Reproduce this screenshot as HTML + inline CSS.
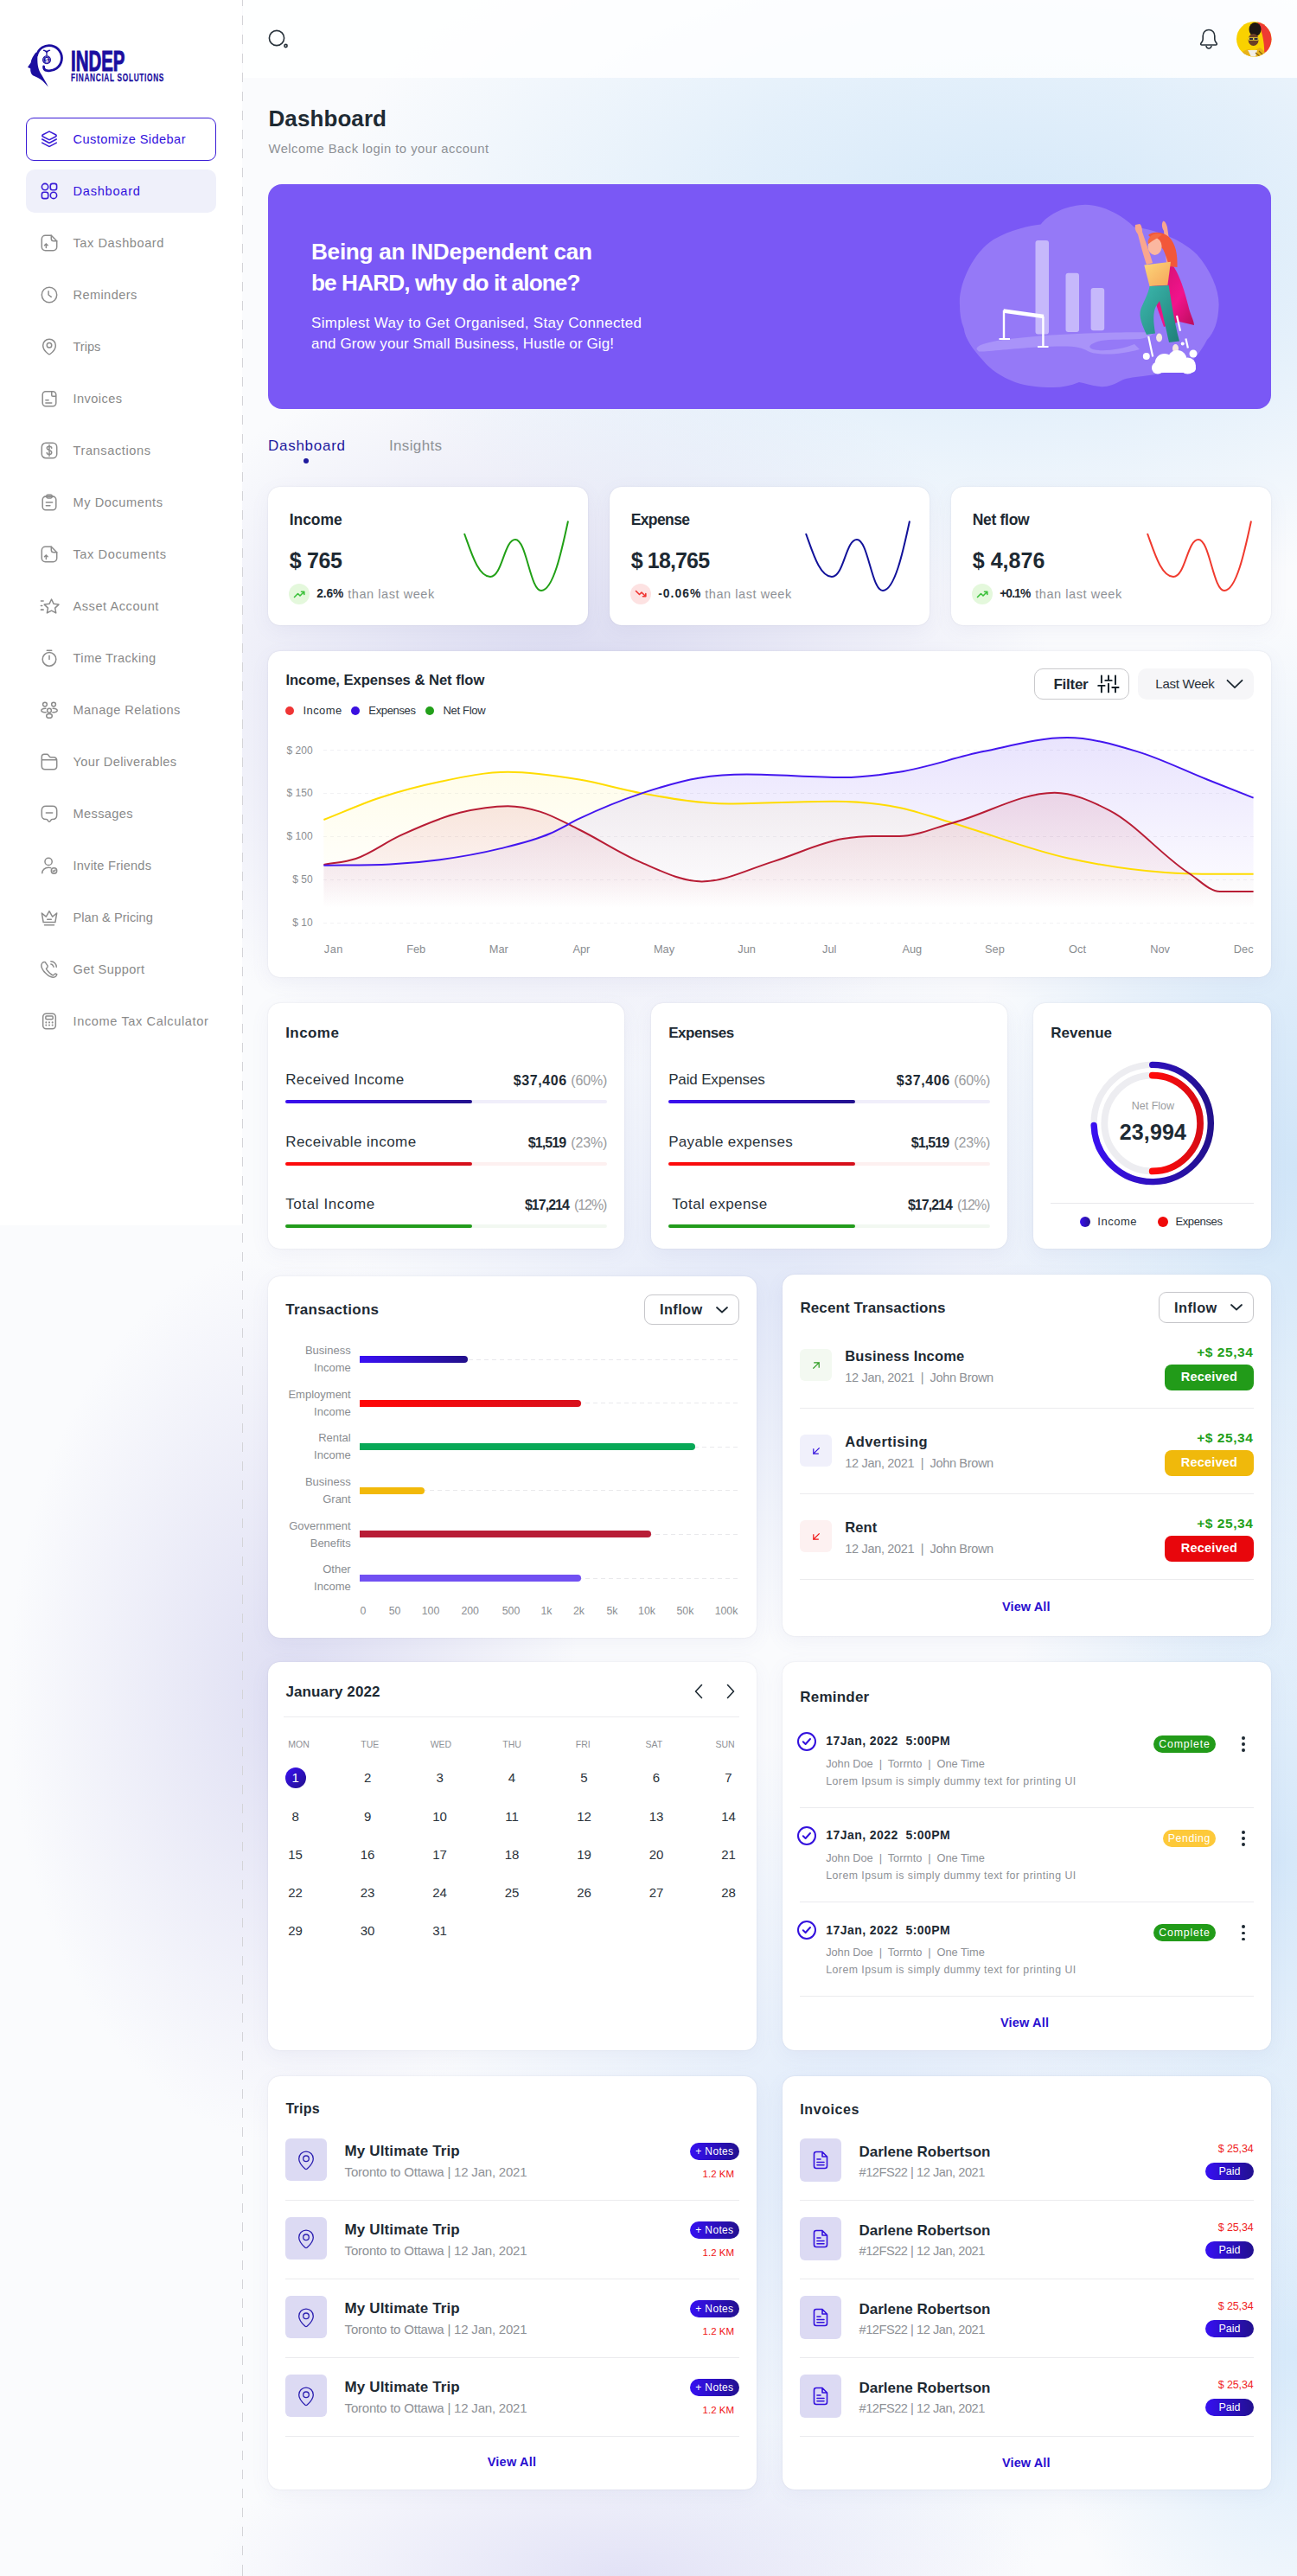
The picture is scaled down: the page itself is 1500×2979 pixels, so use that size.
<!DOCTYPE html>
<html><head><meta charset="utf-8"><title>Dashboard</title>
<style>*{box-sizing:border-box;margin:0;padding:0}
html,body{width:1500px;height:2979px;overflow:hidden;background:#f4f5fc}
body{font-family:"Liberation Sans",sans-serif}
#page{position:relative;width:1500px;height:2979px;overflow:hidden;
 background:
  radial-gradient(ellipse 820px 420px at 1180px 270px, rgba(212,232,249,1), rgba(212,232,249,0.6) 45%, rgba(212,232,249,0) 100%),
  radial-gradient(ellipse 560px 420px at 660px 820px, rgba(216,216,240,1), rgba(216,216,240,0) 100%),
  radial-gradient(ellipse 380px 650px at 1500px 1350px, rgba(208,229,248,1), rgba(208,229,248,0) 100%),
  radial-gradient(ellipse 330px 520px at 340px 1960px, rgba(222,222,243,1), rgba(222,222,243,0) 100%),
  radial-gradient(ellipse 340px 560px at 1480px 2150px, rgba(212,231,249,1), rgba(212,231,249,0) 100%),
  radial-gradient(ellipse 500px 400px at 900px 1500px, rgba(226,232,248,1), rgba(226,232,248,0) 100%),
  radial-gradient(ellipse 520px 500px at 1000px 2500px, rgba(222,234,250,1), rgba(222,234,250,0) 100%),
  radial-gradient(ellipse 480px 190px at 720px 2979px, rgba(226,226,246,1), rgba(226,226,246,0) 100%),
  radial-gradient(ellipse 300px 380px at 1500px 2720px, rgba(214,233,250,1), rgba(214,233,250,0) 100%),
  #fafbfd}
.t{position:absolute;white-space:pre;font-family:"Liberation Sans",sans-serif}
.abs{position:absolute}
.card{position:absolute;background:#fff;border-radius:14px;box-shadow:0 0 1.5px rgba(70,70,100,0.16),0 6px 22px rgba(120,120,170,0.07)}
svg{position:absolute;overflow:visible}
</style></head>
<body><div id="page">
<div class="abs" style="left:0;top:0;width:280px;height:1417px;background:#fff"></div><div class="abs" style="left:280px;top:0;width:1px;height:2979px;background:repeating-linear-gradient(to bottom,#d4d4d8 0,#d4d4d8 11px,transparent 11px,transparent 22px);background-position:0 -4px"></div><svg style="left:0;top:0" width="120" height="110" viewBox="0 0 120 110">
<path d="M41.5 60.5 C38.5 64.5 36 68.5 35.6 72.5 L32 77.8 L35.2 79.2 C35 82.5 35.8 85.5 38 87.2 C41.5 89 46.5 90.8 49.5 93.8 L55.8 100.5 C53 94.5 49.5 89 46.5 84 C44 79 42.8 73 43.5 63 Z" fill="#1b0ea0"/>
<path d="M42.6 64 A14.6 14.6 0 1 1 54.6 81.6 C51.8 81.2 50.3 79.5 50.6 76.8" fill="none" stroke="#1b0ea0" stroke-width="2.8" stroke-linecap="round"/>
<circle cx="54" cy="69.2" r="5" fill="#1b0ea0"/><circle cx="54" cy="69.2" r="3.6" fill="none" stroke="#fff" stroke-width="0.6" stroke-dasharray="1 0.8"/>
<text x="54" y="71.8" font-size="6.5" font-weight="700" fill="#fff" text-anchor="middle" font-family="Liberation Sans">$</text>
<path d="M54 64.2 V58.6 M54 60.5 C52.5 58.5 50.8 58 50 58.6 M54 60.5 C55.5 58.5 57.2 58 58 58.6" stroke="#1b0ea0" stroke-width="1.3" fill="none"/>
</svg><div class="t" style="left:81.5px;top:52.7px;font-size:34px;line-height:34px;font-weight:700;color:#1b0ea0;transform-origin:0 0;transform:scaleX(0.6);-webkit-text-stroke:1.1px #1b0ea0">INDEP</div><div class="t" style="left:81.8px;top:84px;font-size:12.2px;line-height:12.2px;font-weight:700;color:#1b0ea0;transform-origin:0 0;transform:scaleX(0.68);letter-spacing:1px;-webkit-text-stroke:0.25px #1b0ea0">FINANCIAL SOLUTIONS</div><div class="abs" style="left:30px;top:136px;width:220px;height:50px;border:1.5px solid #3a1cd6;border-radius:9px"></div><div class="abs" style="left:30px;top:196px;width:220px;height:50px;background:#eff0fa;border-radius:10px"></div><svg style="left:46px;top:150px" width="22" height="22" viewBox="0 0 24 24" fill="none" stroke="#3a1cd6" stroke-width="1.74" stroke-linecap="round" stroke-linejoin="round"><path d="M12.8 2.6 L20 6.3 C21.2 6.9 21.2 8.1 20 8.7 L12.8 12.4 C12.3 12.7 11.7 12.7 11.2 12.4 L4 8.7 C2.8 8.1 2.8 6.9 4 6.3 L11.2 2.6 C11.7 2.3 12.3 2.3 12.8 2.6Z"/><path d="M3 12 L11.2 16.4 C11.7 16.7 12.3 16.7 12.8 16.4 L21 12"/><path d="M3 16.5 L11.2 20.9 C11.7 21.2 12.3 21.2 12.8 20.9 L21 16.5"/></svg><svg style="left:46px;top:210px" width="22" height="22" viewBox="0 0 24 24" fill="none" stroke="#3a1cd6" stroke-width="1.74" stroke-linecap="round" stroke-linejoin="round"><circle cx="6.6" cy="6.6" r="4"/><rect x="13.4" y="2.6" width="8" height="8" rx="2.6"/><rect x="2.6" y="13.4" width="8" height="8" rx="2.6"/><circle cx="17.4" cy="17.4" r="4"/></svg><div class="t" style="top:153.59px;font-size:14.6px;line-height:14.6px;font-weight:400;color:#3311dd;letter-spacing:0.419px;left:84.50px;">Customize Sidebar</div><div class="t" style="top:213.59px;font-size:14.6px;line-height:14.6px;font-weight:400;color:#3311dd;letter-spacing:0.762px;left:84.50px;">Dashboard</div><svg style="left:46px;top:270px" width="22" height="22" viewBox="0 0 24 24" fill="none" stroke="#8c8c8c" stroke-width="1.64" stroke-linecap="round" stroke-linejoin="round"><path d="M14.5 2.5 H7 C4.5 2.5 2.5 4.5 2.5 7 V17 C2.5 19.5 4.5 21.5 7 21.5 H17 C19.5 21.5 21.5 19.5 21.5 17 V9.5 Z"/><path d="M14.5 2.5 V6.5 C14.5 8.2 15.8 9.5 17.5 9.5 H21.5"/><path d="M8 18 V13 M6 15 L8 13 L10 15"/></svg><div class="t" style="top:273.59px;font-size:14.6px;line-height:14.6px;font-weight:400;color:#8a8a8a;letter-spacing:0.561px;left:84.50px;">Tax Dashboard</div><svg style="left:46px;top:330px" width="22" height="22" viewBox="0 0 24 24" fill="none" stroke="#8c8c8c" stroke-width="1.64" stroke-linecap="round" stroke-linejoin="round"><circle cx="12" cy="12" r="9.5"/><path d="M11 7.5 V12 L14.5 14.5"/></svg><div class="t" style="top:333.59px;font-size:14.6px;line-height:14.6px;font-weight:400;color:#8a8a8a;letter-spacing:0.392px;left:84.50px;">Reminders</div><svg style="left:46px;top:390px" width="22" height="22" viewBox="0 0 24 24" fill="none" stroke="#8c8c8c" stroke-width="1.64" stroke-linecap="round" stroke-linejoin="round"><path d="M12 2.5 C16.5 2.5 20 6 20 10.3 C20 15 16 19 13.3 21 C12.5 21.6 11.5 21.6 10.7 21 C8 19 4 15 4 10.3 C4 6 7.5 2.5 12 2.5Z"/><circle cx="12" cy="10" r="3"/></svg><div class="t" style="top:393.59px;font-size:14.6px;line-height:14.6px;font-weight:400;color:#8a8a8a;letter-spacing:-0.023px;left:84.50px;">Trips</div><svg style="left:46px;top:450px" width="22" height="22" viewBox="0 0 24 24" fill="none" stroke="#8c8c8c" stroke-width="1.64" stroke-linecap="round" stroke-linejoin="round"><rect x="3.5" y="3" width="17" height="18.5" rx="4"/><path d="M15 3.5 V7.5 C15 8.5 15.5 9 16.5 9 H20"/><path d="M7.5 14 H11 M7.5 17.5 H15"/></svg><div class="t" style="top:453.59px;font-size:14.6px;line-height:14.6px;font-weight:400;color:#8a8a8a;letter-spacing:0.422px;left:84.50px;">Invoices</div><svg style="left:46px;top:510px" width="22" height="22" viewBox="0 0 24 24" fill="none" stroke="#8c8c8c" stroke-width="1.64" stroke-linecap="round" stroke-linejoin="round"><rect x="2.5" y="2.5" width="19" height="19" rx="5"/><path d="M15 9 C15 7.6 13.7 6.8 12 6.8 C10.3 6.8 9 7.6 9 9 C9 12 15 11 15 14.5 C15 16 13.7 17 12 17 C10.3 17 9 16 9 14.8 M12 5 V19"/></svg><div class="t" style="top:513.59px;font-size:14.6px;line-height:14.6px;font-weight:400;color:#8a8a8a;letter-spacing:0.589px;left:84.50px;">Transactions</div><svg style="left:46px;top:570px" width="22" height="22" viewBox="0 0 24 24" fill="none" stroke="#8c8c8c" stroke-width="1.64" stroke-linecap="round" stroke-linejoin="round"><rect x="3.5" y="4.5" width="17" height="17" rx="4"/><rect x="8.5" y="2.5" width="7" height="4" rx="1.5"/><path d="M8 12 H16 M8 16 H13"/></svg><div class="t" style="top:573.59px;font-size:14.6px;line-height:14.6px;font-weight:400;color:#8a8a8a;letter-spacing:0.561px;left:84.50px;">My Documents</div><svg style="left:46px;top:630px" width="22" height="22" viewBox="0 0 24 24" fill="none" stroke="#8c8c8c" stroke-width="1.64" stroke-linecap="round" stroke-linejoin="round"><path d="M14.5 2.5 H7 C4.5 2.5 2.5 4.5 2.5 7 V17 C2.5 19.5 4.5 21.5 7 21.5 H17 C19.5 21.5 21.5 19.5 21.5 17 V9.5 Z"/><path d="M14.5 2.5 V6.5 C14.5 8.2 15.8 9.5 17.5 9.5 H21.5"/><path d="M8 18 V13 M6 15 L8 13 L10 15"/></svg><div class="t" style="top:633.59px;font-size:14.6px;line-height:14.6px;font-weight:400;color:#8a8a8a;letter-spacing:0.577px;left:84.50px;">Tax Documents</div><svg style="left:46px;top:690px" width="22" height="22" viewBox="0 0 24 24" fill="none" stroke="#8c8c8c" stroke-width="1.64" stroke-linecap="round" stroke-linejoin="round"><path d="M14.80 3.30 L17.56 9.10 L23.93 9.93 L19.27 14.35 L20.44 20.67 L14.80 17.60 L9.16 20.67 L10.33 14.35 L5.67 9.93 L12.04 9.10 Z"/><path d="M1.5 5.5 H4.5 M1.5 11.5 H3 M1.5 16.5 H4.5"/></svg><div class="t" style="top:693.59px;font-size:14.6px;line-height:14.6px;font-weight:400;color:#8a8a8a;letter-spacing:0.535px;left:84.50px;">Asset Account</div><svg style="left:46px;top:750px" width="22" height="22" viewBox="0 0 24 24" fill="none" stroke="#8c8c8c" stroke-width="1.64" stroke-linecap="round" stroke-linejoin="round"><circle cx="12" cy="13.5" r="8.5"/><path d="M12 9 V13.5 M9 2.5 H15"/></svg><div class="t" style="top:753.59px;font-size:14.6px;line-height:14.6px;font-weight:400;color:#8a8a8a;letter-spacing:0.383px;left:84.50px;">Time Tracking</div><svg style="left:46px;top:810px" width="22" height="22" viewBox="0 0 24 24" fill="none" stroke="#8c8c8c" stroke-width="1.64" stroke-linecap="round" stroke-linejoin="round"><circle cx="6.5" cy="5" r="2.6"/><circle cx="17.5" cy="5" r="2.6"/><ellipse cx="12" cy="19.5" rx="3.6" ry="2.6"/><circle cx="12" cy="12.8" r="2.6"/><path d="M7.5 10 C3.5 10 1.5 11.5 2 13 C2.5 14.5 5 15 7.8 15 M16.5 10 C20.5 10 22.5 11.5 22 13 C21.5 14.5 19 15 16.2 15"/></svg><div class="t" style="top:813.59px;font-size:14.6px;line-height:14.6px;font-weight:400;color:#8a8a8a;letter-spacing:0.417px;left:84.50px;">Manage Relations</div><svg style="left:46px;top:870px" width="22" height="22" viewBox="0 0 24 24" fill="none" stroke="#8c8c8c" stroke-width="1.64" stroke-linecap="round" stroke-linejoin="round"><path d="M21.5 11 V17.5 C21.5 20 20 21.5 17.5 21.5 H6.5 C4 21.5 2.5 20 2.5 17.5 V5.5 C2.5 3.8 3.3 2.5 5.5 2.5 H9 C10 2.5 10.5 3 11 3.7 L12.3 5.5 C12.7 6 13 6.3 14 6.3 H17.5 C20 6.3 21.5 7.5 21.5 11 Z M2.5 9.5 H21.5"/></svg><div class="t" style="top:873.59px;font-size:14.6px;line-height:14.6px;font-weight:400;color:#8a8a8a;letter-spacing:0.354px;left:84.50px;">Your Deliverables</div><svg style="left:46px;top:930px" width="22" height="22" viewBox="0 0 24 24" fill="none" stroke="#8c8c8c" stroke-width="1.64" stroke-linecap="round" stroke-linejoin="round"><path d="M8.5 19 H8 C4 19 2.5 17.5 2.5 13.5 V8 C2.5 4 4 2.5 8 2.5 H16 C20 2.5 21.5 4 21.5 8 V13.5 C21.5 17.5 20 19 16 19 H15.5 C15.2 19 14.9 19.2 14.7 19.4 L13.2 21.4 C12.5 22.3 11.5 22.3 10.8 21.4 L9.3 19.4 C9.1 19.2 8.8 19 8.5 19Z"/><path d="M8 11 H16"/></svg><div class="t" style="top:933.59px;font-size:14.6px;line-height:14.6px;font-weight:400;color:#8a8a8a;letter-spacing:0.355px;left:84.50px;">Messages</div><svg style="left:46px;top:990px" width="22" height="22" viewBox="0 0 24 24" fill="none" stroke="#8c8c8c" stroke-width="1.64" stroke-linecap="round" stroke-linejoin="round"><circle cx="11" cy="7" r="4.5"/><path d="M3 21.5 C3 17.5 6.5 14.5 11 14.5 C12 14.5 13 14.6 13.8 14.9"/><circle cx="18" cy="18.5" r="3.5"/><path d="M16.5 18.5 L17.6 19.5 L19.6 17.6"/></svg><div class="t" style="top:993.59px;font-size:14.6px;line-height:14.6px;font-weight:400;color:#8a8a8a;letter-spacing:0.222px;left:84.50px;">Invite Friends</div><svg style="left:46px;top:1050px" width="22" height="22" viewBox="0 0 24 24" fill="none" stroke="#8c8c8c" stroke-width="1.64" stroke-linecap="round" stroke-linejoin="round"><path d="M4.5 18 H19.5 L21.5 6.5 L16 11 L12 4 L8 11 L2.5 6.5 Z"/><path d="M6 21.5 H18 M9.5 14.5 H14.5"/></svg><div class="t" style="top:1053.59px;font-size:14.6px;line-height:14.6px;font-weight:400;color:#8a8a8a;letter-spacing:0.049px;left:84.50px;">Plan &amp; Pricing</div><svg style="left:46px;top:1110px" width="22" height="22" viewBox="0 0 24 24" fill="none" stroke="#8c8c8c" stroke-width="1.64" stroke-linecap="round" stroke-linejoin="round"><path d="M21.5 18.3 C21.5 18.7 21.4 19 21.2 19.4 C21 19.8 20.8 20.1 20.5 20.5 C20 21 19.5 21.4 18.9 21.6 C18.3 21.9 17.7 22 17 22 C16 22 14.9 21.8 13.8 21.3 C12.6 20.8 11.5 20.2 10.4 19.4 C9.3 18.6 8.2 17.7 7.2 16.7 C6.2 15.7 5.3 14.7 4.5 13.6 C3.8 12.5 3.2 11.4 2.7 10.3 C2.2 9.2 2 8.1 2 7.1 C2 6.4 2.1 5.8 2.4 5.2 C2.6 4.6 3 4 3.6 3.5 C4.2 2.9 4.9 2.6 5.6 2.6 C5.9 2.6 6.2 2.7 6.4 2.8 C6.7 2.9 6.9 3.1 7.1 3.4 L9.4 6.7 C9.6 7 9.8 7.2 9.9 7.5 C10 7.7 10 8 10 8.2 C10 8.5 9.9 8.8 9.8 9.1 C9.6 9.4 9.4 9.7 9.1 10 L8.4 10.8 C8.3 10.9 8.2 11.1 8.2 11.3 C8.2 11.4 8.3 11.5 8.3 11.6 C8.4 11.8 8.4 11.9 8.5 12 C8.8 12.6 9.3 13.2 9.9 13.9 C10.5 14.6 11.2 15.3 11.9 16 C12.6 16.7 13.3 17.3 14 17.9 C14.7 18.5 15.3 18.9 15.8 19.2 C15.9 19.2 16 19.3 16.2 19.4 C16.3 19.4 16.5 19.5 16.6 19.5 C16.9 19.5 17 19.4 17.2 19.2 L18 18.5 C18.3 18.2 18.6 18 18.9 17.8 C19.2 17.6 19.4 17.5 19.7 17.5 C20 17.5 20.2 17.6 20.5 17.7 C20.8 17.8 21 18 21.3 18.2Z"/><path d="M17.5 9 C17.5 8.4 17 7.5 16.3 6.7 C15.6 6 14.8 5.5 14 5.5 M21 9 C21 5.1 17.9 2 14 2"/></svg><div class="t" style="top:1113.59px;font-size:14.6px;line-height:14.6px;font-weight:400;color:#8a8a8a;letter-spacing:0.380px;left:84.50px;">Get Support</div><svg style="left:46px;top:1170px" width="22" height="22" viewBox="0 0 24 24" fill="none" stroke="#8c8c8c" stroke-width="1.64" stroke-linecap="round" stroke-linejoin="round"><rect x="4" y="2.5" width="16" height="19" rx="4"/><rect x="7.5" y="5.5" width="9" height="4" rx="1"/><path d="M8 13.5 H8.01 M12 13.5 H12.01 M16 13.5 H16.01 M8 17 H8.01 M12 17 H12.01 M16 17 H16.01" stroke-width="2.2"/></svg><div class="t" style="top:1173.59px;font-size:14.6px;line-height:14.6px;font-weight:400;color:#8a8a8a;letter-spacing:0.609px;left:84.50px;">Income Tax Calculator</div><div class="abs" style="left:281px;top:0;width:1219px;height:90px;background:rgba(255,255,255,0.82)"></div><svg style="left:310px;top:34px" width="24" height="22" viewBox="0 0 24 22" fill="none" stroke="#27313a" stroke-width="1.6"><circle cx="10" cy="10" r="8.6"/><circle cx="20.5" cy="19" r="1.6"/></svg><svg style="left:1386px;top:32px" width="24" height="26" viewBox="0 0 24 26" fill="none" stroke="#27313a" stroke-width="1.6" stroke-linecap="round"><path d="M12 2.5 C8 2.5 5.2 5.5 5.2 9.5 V13 C5.2 14 4.8 15.5 4.2 16.3 L3 18 C2.3 19 2.8 20 4 20 H20 C21.2 20 21.7 19 21 18 L19.8 16.3 C19.2 15.5 18.8 14 18.8 13 V9.5 C18.8 5.5 16 2.5 12 2.5Z"/><path d="M9 21.5 C9.5 23 10.6 24 12 24 C13.4 24 14.5 23 15 21.5"/></svg><svg style="left:1430px;top:24.5px" width="40.5" height="40.5" viewBox="0 0 40.5 40.5"><defs><clipPath id="av"><circle cx="20.25" cy="20.25" r="20.25"/></clipPath></defs>
<g clip-path="url(#av)"><rect width="41" height="41" fill="#f9d100"/><path d="M24 0 H41 V41 H32 C33 30 31 12 24 0Z" fill="#ee3a33"/>
<ellipse cx="21.5" cy="9" rx="7" ry="8" fill="#1d1714"/>
<ellipse cx="19.6" cy="21" rx="6" ry="7" fill="#6b3e26"/>
<rect x="13.8" y="18.3" width="12" height="3.4" rx="1.2" fill="#e9d23a"/><rect x="15" y="19" width="4" height="2" fill="#2a2a40"/><rect x="20.5" y="19" width="4" height="2" fill="#2a2a40"/>
<path d="M3 41 C5 36 8 33 14 32 L20 34 L27 30 C31 32 34 37 35 41Z" fill="#e8b21a"/><path d="M13 33 C15 36 16 39 17 41 L22 41 L24 33Z" fill="#f2efe8"/>
<path d="M8 37 L12 40 M26 34 L31 39 M22 36 L28 41" stroke="#8a6510" stroke-width="1.3"/></g></svg><div class="t" style="top:124.40px;font-size:26px;line-height:26px;font-weight:700;color:#1e2a33;letter-spacing:0.086px;left:310.50px;">Dashboard</div><div class="t" style="top:164.62px;font-size:14.8px;line-height:14.8px;font-weight:400;color:#8e9196;letter-spacing:0.468px;left:310.50px;">Welcome Back login to your account</div><div class="abs" style="left:310px;top:213px;width:1160px;height:260px;background:#7a58f5;border-radius:16px;overflow:hidden"></div><div class="t" style="top:278.13px;font-size:26.2px;line-height:26.2px;font-weight:700;color:#fff;letter-spacing:-0.294px;left:360.00px;">Being an INDependent can</div><div class="t" style="top:314.23px;font-size:26.2px;line-height:26.2px;font-weight:700;color:#fff;letter-spacing:-0.904px;left:360.00px;">be HARD, why do it alone?</div><div class="t" style="top:365.05px;font-size:17px;line-height:17px;font-weight:400;color:#fff;letter-spacing:0.321px;left:360.00px;">Simplest Way to Get Organised, Stay Connected</div><div class="t" style="top:389.15px;font-size:17px;line-height:17px;font-weight:400;color:#fff;letter-spacing:0.097px;left:360.00px;">and Grow your Small Business, Hustle or Gig!</div><svg style="left:1100px;top:225px" width="300" height="240" viewBox="1100 225 300 240">
<defs>
<linearGradient id="capeg" x1="0" y1="0" x2="1" y2="1"><stop offset="0" stop-color="#c8106a"/><stop offset="0.6" stop-color="#f2138c"/><stop offset="1" stop-color="#b80d5a"/></linearGradient>
<linearGradient id="pantg" x1="0" y1="0" x2="1" y2="1"><stop offset="0" stop-color="#3cb8ad"/><stop offset="1" stop-color="#1f7f78"/></linearGradient>
<linearGradient id="shirtg" x1="0" y1="0" x2="1" y2="1"><stop offset="0" stop-color="#fcd77a"/><stop offset="1" stop-color="#f6a55a"/></linearGradient>
</defs>
<path d="M1110 353 C1108 330 1125 292 1149 277 C1168 266 1190 261 1203.6 259.5 C1212 248 1234 237 1255.4 236.8 C1275 237 1297 248 1312 263 C1330 264 1365 275 1384 294 C1400 312 1410 335 1409.6 353 C1409 372 1404 385 1396 393 C1388 408 1380 418 1371 422 C1355 431 1335 433 1322 435 C1310 436 1300 438 1297 440 C1288 445 1280 448 1272 447 C1262 446 1254 443 1248 442 C1238 446 1228 448 1218 448 C1200 448 1186 446 1174 442 C1158 436 1145 427 1137 417 C1126 405 1116 392 1114.8 380 C1111 371 1110 362 1110 353 Z" fill="#9579f7"/>
<path d="M1129.6 404 C1128 400 1140 396 1160 393 C1195 388 1240 385.5 1290 384.5 C1310 384 1328 384 1333 385 C1335 386 1328 391 1318 392 C1300 393 1285 392 1273 394 C1262 397 1256 401 1264 404 C1276 407 1298 404 1312 398 L1318 404 C1298 410 1270 412 1258 406 C1250 401 1240 399 1200 401.5 C1170 403 1140 407 1132 406.5 Z" fill="#a993f9"/>
<rect x="1197.5" y="278" width="15.5" height="108.5" rx="3" fill="#c6b8fb"/>
<rect x="1232.5" y="315.7" width="15.5" height="68.3" rx="3" fill="#c6b8fb"/>
<rect x="1261.6" y="333" width="15.6" height="49.3" rx="3" fill="#c6b8fb"/>
<g stroke="#fff" fill="none">
<path d="M1161 359 V391.5" stroke-width="2.4"/><path d="M1155.5 392 H1168" stroke-width="2"/>
<path d="M1160.5 359.5 L1207 366" stroke-width="4.4"/>
<path d="M1206.4 366 V400.5" stroke-width="2.4"/><path d="M1200 401 H1212.5" stroke-width="2"/>
</g>
<path d="M1354 304 C1366 318 1372 345 1376 360 C1378 366 1381 372 1381 376 L1364 372 L1346 378 C1340 360 1334 345 1331 331 Z" fill="url(#capeg)"/>
<path d="M1313 260 C1312 265 1314 268 1316 271 C1319 283 1323 297 1326 306 L1333 304 C1330 293 1325 280 1321 268 C1321 264 1320 260 1318 259 Z" fill="#f9a68e"/>
<path d="M1345 256 C1343 259 1344 264 1346 267 C1347 280 1348 293 1349 304 L1355 303 C1354 291 1352 276 1350 263 C1349 259 1347 255 1345 256 Z" fill="#f9a68e"/>
<path d="M1328 272 C1333 267 1345 268 1352 274 C1360 282 1362 295 1361.5 309 L1352 308 C1350 300 1347 292 1345 288 Z" fill="#f2573a"/>
<ellipse cx="1335.6" cy="285" rx="8" ry="10" fill="#fbb7a0"/>
<path d="M1327.5 281 C1328 272 1336 268 1344 271 C1340 275 1334 277 1328.5 282Z" fill="#f46b43"/>
<path d="M1323.3 306.4 L1354 302.7 L1350.4 329.8 L1329.5 331 Z" fill="url(#shirtg)"/>
<path d="M1329.5 331 L1351.7 330 C1354 345 1358 372 1364 394.5 L1352 396 C1348 378 1344 360 1341 348 L1337 354 C1333 362 1334 372 1336 385.5 L1326 387 C1322 378 1316 366 1319.5 357 C1323 348 1328 340 1329.5 331 Z" fill="url(#pantg)"/>
<ellipse cx="1340.6" cy="390.5" rx="3.5" ry="5" fill="#f4e6e0"/><ellipse cx="1359.5" cy="403" rx="3.5" ry="5" fill="#f4e6e0"/>
<g fill="#fff"><circle cx="1346.7" cy="420" r="11"/><circle cx="1361.5" cy="416" r="11"/><circle cx="1373.5" cy="423" r="9.5"/><circle cx="1339" cy="425.5" r="7"/>
<rect x="1333" y="421" width="50" height="10" rx="5"/>
<circle cx="1325.8" cy="412" r="4"/><circle cx="1380" cy="409" r="4.5"/><circle cx="1367.7" cy="397.5" r="2"/></g>
<g stroke="#fff" stroke-width="2.2"><path d="M1328.2 389 L1333.2 412.5"/><path d="M1361 365 L1365 382.8"/><path d="M1371.4 391.5 L1373.9 402.6"/></g>
</svg><div class="t" style="top:507.05px;font-size:17px;line-height:17px;font-weight:400;color:#1f1a9e;letter-spacing:0.729px;left:310.00px;">Dashboard</div><div class="abs" style="left:350.5px;top:529.5px;width:6px;height:6px;border-radius:50%;background:#1f1a9e"></div><div class="t" style="top:507.05px;font-size:17px;line-height:17px;font-weight:400;color:#8e9196;letter-spacing:0.344px;left:450.00px;">Insights</div><div class="card" style="left:310px;top:563px;width:370px;height:160px"></div><div class="t" style="top:593.12px;font-size:17.5px;line-height:17.5px;font-weight:700;color:#1e2a33;letter-spacing:-0.056px;left:334.70px;">Income</div><div class="t" style="top:636.25px;font-size:25px;line-height:25px;font-weight:700;color:#1e2a33;letter-spacing:-0.316px;left:334.70px;">$ 765</div><svg style="left:334px;top:675px" width="24" height="24" viewBox="0 0 24 24"><circle cx="12" cy="12" r="12" fill="#e4f8dc"/><g fill="none" stroke="#3cc13b" stroke-width="1.6" stroke-linecap="round" stroke-linejoin="round"><path d="M6.5 15.5 L10.5 11.5 L13 14 L17.5 9.5 M14.5 9.2 H17.8 V12.5"/></g></svg><div class="t" style="top:680.17px;font-size:13.8px;line-height:13.8px;font-weight:700;color:#1e2a33;letter-spacing:-0.151px;left:366.20px;">2.6%</div><div class="t" style="top:679.57px;font-size:14.5px;line-height:14.5px;font-weight:400;color:#8e9196;letter-spacing:0.561px;left:402.20px;">than last week</div><svg style="left:536px;top:563px" width="144" height="160" viewBox="0 0 144 160" fill="none"><path d="M 1 54 C 9 76, 17 104, 31 104 C 45 104, 47 61, 60 61 C 73 61, 77 120, 90 120 C 104 120, 114 72, 121 39.5" stroke="#21a016" stroke-width="2"/></svg><div class="card" style="left:705px;top:563px;width:370px;height:160px"></div><div class="t" style="top:593.12px;font-size:17.5px;line-height:17.5px;font-weight:700;color:#1e2a33;letter-spacing:-0.614px;left:729.70px;">Expense</div><div class="t" style="top:636.25px;font-size:25px;line-height:25px;font-weight:700;color:#1e2a33;letter-spacing:-0.847px;left:729.70px;">$ 18,765</div><svg style="left:729px;top:675px" width="24" height="24" viewBox="0 0 24 24"><circle cx="12" cy="12" r="12" fill="#fde2e2"/><g fill="none" stroke="#f0322f" stroke-width="1.6" stroke-linecap="round" stroke-linejoin="round"><path d="M6.5 8.5 L10.5 12.5 L13 10 L17.5 14.5 M14.5 14.8 H17.8 V11.5"/></g></svg><div class="t" style="top:680.17px;font-size:13.8px;line-height:13.8px;font-weight:700;color:#1e2a33;letter-spacing:1.056px;left:761.20px;">-0.06%</div><div class="t" style="top:679.57px;font-size:14.5px;line-height:14.5px;font-weight:400;color:#8e9196;letter-spacing:0.561px;left:815.20px;">than last week</div><svg style="left:931px;top:563px" width="144" height="160" viewBox="0 0 144 160" fill="none"><path d="M 1 54 C 9 76, 17 104, 31 104 C 45 104, 47 61, 60 61 C 73 61, 77 120, 90 120 C 104 120, 114 72, 121 39.5" stroke="#12129a" stroke-width="2"/></svg><div class="card" style="left:1100px;top:563px;width:370px;height:160px"></div><div class="t" style="top:593.12px;font-size:17.5px;line-height:17.5px;font-weight:700;color:#1e2a33;letter-spacing:-0.295px;left:1124.70px;">Net flow</div><div class="t" style="top:636.25px;font-size:25px;line-height:25px;font-weight:700;color:#1e2a33;letter-spacing:0.046px;left:1124.70px;">$ 4,876</div><svg style="left:1124px;top:675px" width="24" height="24" viewBox="0 0 24 24"><circle cx="12" cy="12" r="12" fill="#e4f8dc"/><g fill="none" stroke="#3cc13b" stroke-width="1.6" stroke-linecap="round" stroke-linejoin="round"><path d="M6.5 15.5 L10.5 11.5 L13 14 L17.5 9.5 M14.5 9.2 H17.8 V12.5"/></g></svg><div class="t" style="top:680.17px;font-size:13.8px;line-height:13.8px;font-weight:700;color:#1e2a33;letter-spacing:-0.879px;left:1156.20px;">+0.1%</div><div class="t" style="top:679.57px;font-size:14.5px;line-height:14.5px;font-weight:400;color:#8e9196;letter-spacing:0.561px;left:1197.20px;">than last week</div><svg style="left:1326px;top:563px" width="144" height="160" viewBox="0 0 144 160" fill="none"><path d="M 1 54 C 9 76, 17 104, 31 104 C 45 104, 47 61, 60 61 C 73 61, 77 120, 90 120 C 104 120, 114 72, 121 39.5" stroke="#f03a2e" stroke-width="2"/></svg><div class="card" style="left:310px;top:753px;width:1160px;height:377px"></div><div class="t" style="top:779.39px;font-size:16.6px;line-height:16.6px;font-weight:700;color:#1e2a33;letter-spacing:-0.024px;left:330.40px;">Income, Expenses &amp; Net flow</div><div class="abs" style="left:330px;top:817px;width:10px;height:10px;border-radius:50%;background:#ef3535"></div><div class="t" style="top:815.45px;font-size:13px;line-height:13px;font-weight:400;color:#2b333b;letter-spacing:0.412px;left:350.50px;">Income</div><div class="abs" style="left:405.8px;top:817px;width:10px;height:10px;border-radius:50%;background:#3a10e0"></div><div class="t" style="top:815.45px;font-size:13px;line-height:13px;font-weight:400;color:#2b333b;letter-spacing:-0.342px;left:426.30px;">Expenses</div><div class="abs" style="left:492px;top:817px;width:10px;height:10px;border-radius:50%;background:#22a01a"></div><div class="t" style="top:815.45px;font-size:13px;line-height:13px;font-weight:400;color:#2b333b;letter-spacing:-0.314px;left:512.50px;">Net Flow</div><div class="abs" style="left:1196px;top:773px;width:110px;height:36px;border:1px solid #c9c9cc;border-radius:10px"></div><div class="t" style="top:782.85px;font-size:17px;line-height:17px;font-weight:700;color:#1e2a33;letter-spacing:-0.272px;left:1218.50px;">Filter</div><svg style="left:1265px;top:775px" width="35" height="31" viewBox="0 0 35 31" fill="none" stroke="#101c24" stroke-width="1.9" stroke-linecap="round"><path d="M8.9 6.4 V14.4 M5.2 17.9 H12.6 M8.9 17.9 V25.4 M17 6.4 V11.9 M13.3 11.9 H20.7 M17 15.6 V25.4 M25 6.4 V16.3 M21.3 20 H28.6 M25 20 V25.4"/></svg><div class="abs" style="left:1316px;top:773px;width:134px;height:36px;background:#f6f6f8;border-radius:10px"></div><div class="t" style="top:783.45px;font-size:15px;line-height:15px;font-weight:400;color:#2b333b;letter-spacing:-0.262px;left:1336.30px;">Last Week</div><svg style="left:1418px;top:785px" width="20" height="12" viewBox="0 0 20 12" fill="none" stroke="#1e2a33" stroke-width="1.8" stroke-linecap="round" stroke-linejoin="round"><path d="M1.5 1.8 L10 10.2 L18.5 1.8"/></svg><div class="t" style="top:861.50px;font-size:12px;line-height:12px;font-weight:400;color:#8a8d91;right:1138.40px;">$ 200</div><div class="abs" style="left:374px;top:867.0px;width:1076px;height:1px;background:repeating-linear-gradient(to right,#f1f1f4 0,#f1f1f4 4px,transparent 4px,transparent 8px)"></div><div class="t" style="top:911.30px;font-size:12px;line-height:12px;font-weight:400;color:#8a8d91;right:1138.40px;">$ 150</div><div class="abs" style="left:374px;top:916.8px;width:1076px;height:1px;background:repeating-linear-gradient(to right,#f1f1f4 0,#f1f1f4 4px,transparent 4px,transparent 8px)"></div><div class="t" style="top:961.30px;font-size:12px;line-height:12px;font-weight:400;color:#8a8d91;right:1138.40px;">$ 100</div><div class="abs" style="left:374px;top:966.8px;width:1076px;height:1px;background:repeating-linear-gradient(to right,#f1f1f4 0,#f1f1f4 4px,transparent 4px,transparent 8px)"></div><div class="t" style="top:1011.20px;font-size:12px;line-height:12px;font-weight:400;color:#8a8d91;right:1138.40px;">$ 50</div><div class="abs" style="left:374px;top:1016.7px;width:1076px;height:1px;background:repeating-linear-gradient(to right,#f1f1f4 0,#f1f1f4 4px,transparent 4px,transparent 8px)"></div><div class="t" style="top:1061.00px;font-size:12px;line-height:12px;font-weight:400;color:#8a8d91;right:1138.40px;">$ 10</div><div class="abs" style="left:374px;top:1066.5px;width:1076px;height:1px;background:repeating-linear-gradient(to right,#f1f1f4 0,#f1f1f4 4px,transparent 4px,transparent 8px)"></div><div class="t" style="top:1092.22px;font-size:12.8px;line-height:12.8px;font-weight:400;color:#8a8d91;letter-spacing:0.430px;left:374.80px;">Jan</div><div class="t" style="top:1092.22px;font-size:12.8px;line-height:12.8px;font-weight:400;color:#8a8d91;left:481.20px;transform:translateX(-50%);">Feb</div><div class="t" style="top:1092.22px;font-size:12.8px;line-height:12.8px;font-weight:400;color:#8a8d91;left:576.80px;transform:translateX(-50%);">Mar</div><div class="t" style="top:1092.22px;font-size:12.8px;line-height:12.8px;font-weight:400;color:#8a8d91;left:672.40px;transform:translateX(-50%);">Apr</div><div class="t" style="top:1092.22px;font-size:12.8px;line-height:12.8px;font-weight:400;color:#8a8d91;left:768.00px;transform:translateX(-50%);">May</div><div class="t" style="top:1092.22px;font-size:12.8px;line-height:12.8px;font-weight:400;color:#8a8d91;left:863.60px;transform:translateX(-50%);">Jun</div><div class="t" style="top:1092.22px;font-size:12.8px;line-height:12.8px;font-weight:400;color:#8a8d91;left:959.20px;transform:translateX(-50%);">Jul</div><div class="t" style="top:1092.22px;font-size:12.8px;line-height:12.8px;font-weight:400;color:#8a8d91;left:1054.80px;transform:translateX(-50%);">Aug</div><div class="t" style="top:1092.22px;font-size:12.8px;line-height:12.8px;font-weight:400;color:#8a8d91;left:1150.40px;transform:translateX(-50%);">Sep</div><div class="t" style="top:1092.22px;font-size:12.8px;line-height:12.8px;font-weight:400;color:#8a8d91;left:1246.00px;transform:translateX(-50%);">Oct</div><div class="t" style="top:1092.22px;font-size:12.8px;line-height:12.8px;font-weight:400;color:#8a8d91;left:1341.60px;transform:translateX(-50%);">Nov</div><div class="t" style="top:1092.22px;font-size:12.8px;line-height:12.8px;font-weight:400;color:#8a8d91;right:50.40px;">Dec</div><svg style="left:0;top:0" width="1500" height="1130" viewBox="0 0 1500 1130">
<defs>
<linearGradient id="gy" x1="0" y1="0" x2="0" y2="1" gradientUnits="objectBoundingBox"><stop offset="0" stop-color="#fff3a0" stop-opacity="0.22"/><stop offset="1" stop-color="#fff6b0" stop-opacity="0"/></linearGradient>
<linearGradient id="gb" x1="0" y1="850" x2="0" y2="1050" gradientUnits="userSpaceOnUse"><stop offset="0" stop-color="#7b5cf5" stop-opacity="0.17"/><stop offset="0.8" stop-color="#7b5cf5" stop-opacity="0.04"/><stop offset="1" stop-color="#7b5cf5" stop-opacity="0"/></linearGradient>
<linearGradient id="gr" x1="0" y1="915" x2="0" y2="1050" gradientUnits="userSpaceOnUse"><stop offset="0" stop-color="#c0203a" stop-opacity="0.12"/><stop offset="0.75" stop-color="#c0203a" stop-opacity="0.05"/><stop offset="1" stop-color="#c0203a" stop-opacity="0"/></linearGradient>
</defs>
<path d="M374.4 948.0 C396.1 939.5 417.7 929.7 439.4 922.5 C462.5 914.8 485.7 908.8 508.8 904.0 C535.0 898.5 561.2 892.8 587.4 892.8 C614.9 892.8 642.5 897.0 670.0 901.6 C694.1 905.6 718.2 913.1 742.3 917.4 C775.8 923.4 809.4 929.5 842.9 929.5 C883.4 929.5 923.8 926.7 964.3 926.7 C989.5 926.7 1014.8 928.8 1040.0 933.9 C1060.5 938.0 1081.0 945.7 1101.5 951.7 C1145.8 964.7 1190.0 982.4 1234.3 992.2 C1272.1 1000.5 1309.8 1006.4 1347.6 1009.0 C1361.7 1010.0 1375.9 1010.7 1390.0 1010.7 C1409.9 1010.7 1429.7 1010.7 1449.6 1010.7 L1449.6 1050 L374.4 1050 Z" fill="url(#gy)"/>
<path d="M374.4 1000.8 C399.9 1000.4 425.5 1000.8 451.0 999.5 C470.3 998.5 489.5 996.8 508.8 994.2 C531.9 991.1 555.1 987.1 578.2 981.4 C597.5 976.6 616.7 972.3 636.0 964.0 C647.3 959.1 658.7 952.1 670.0 946.7 C694.1 935.2 718.2 925.4 742.3 917.4 C764.3 910.1 786.2 903.3 808.2 899.7 C826.7 896.7 845.2 895.5 863.7 895.5 C900.7 895.5 937.7 899.0 974.7 899.0 C996.5 899.0 1018.2 896.2 1040.0 892.8 C1072.4 887.8 1104.7 875.7 1137.1 869.1 C1169.5 862.5 1201.9 853.0 1234.3 853.0 C1261.3 853.0 1288.3 861.0 1315.3 869.1 C1342.3 877.2 1369.2 890.8 1396.2 901.5 C1414.0 908.6 1431.8 915.6 1449.6 922.6 L1449.6 1050 L374.4 1050 Z" fill="url(#gb)"/>
<path d="M374.4 1000.0 C386.8 997.7 399.2 997.1 411.6 993.0 C428.6 987.4 445.5 974.3 462.5 966.4 C485.7 955.7 508.8 945.5 532.0 939.8 C550.5 935.3 568.9 932.2 587.4 932.2 C599.8 932.2 612.1 934.9 624.5 938.6 C639.7 943.2 654.8 952.1 670.0 959.5 C692.9 970.7 715.9 986.3 738.8 996.1 C763.1 1006.5 787.4 1019.4 811.7 1019.4 C839.4 1019.4 867.2 1004.5 894.9 996.1 C921.5 988.0 948.1 974.4 974.7 970.1 C986.3 968.2 997.8 967.0 1009.4 967.0 C1019.6 967.0 1029.8 967.0 1040.0 967.0 C1060.5 967.0 1081.0 957.1 1101.5 951.7 C1140.9 941.3 1180.3 916.7 1219.7 916.7 C1240.8 916.7 1261.8 926.3 1282.9 937.1 C1313.7 952.9 1344.4 990.1 1375.2 1010.0 C1387.1 1017.7 1398.9 1031.0 1410.8 1031.0 C1423.7 1031.0 1436.7 1031.0 1449.6 1031.0 L1449.6 1050 L374.4 1050 Z" fill="url(#gr)"/>
<path d="M374.4 948.0 C396.1 939.5 417.7 929.7 439.4 922.5 C462.5 914.8 485.7 908.8 508.8 904.0 C535.0 898.5 561.2 892.8 587.4 892.8 C614.9 892.8 642.5 897.0 670.0 901.6 C694.1 905.6 718.2 913.1 742.3 917.4 C775.8 923.4 809.4 929.5 842.9 929.5 C883.4 929.5 923.8 926.7 964.3 926.7 C989.5 926.7 1014.8 928.8 1040.0 933.9 C1060.5 938.0 1081.0 945.7 1101.5 951.7 C1145.8 964.7 1190.0 982.4 1234.3 992.2 C1272.1 1000.5 1309.8 1006.4 1347.6 1009.0 C1361.7 1010.0 1375.9 1010.7 1390.0 1010.7 C1409.9 1010.7 1429.7 1010.7 1449.6 1010.7" fill="none" stroke="#ffdc00" stroke-width="2"/>
<path d="M374.4 1000.0 C386.8 997.7 399.2 997.1 411.6 993.0 C428.6 987.4 445.5 974.3 462.5 966.4 C485.7 955.7 508.8 945.5 532.0 939.8 C550.5 935.3 568.9 932.2 587.4 932.2 C599.8 932.2 612.1 934.9 624.5 938.6 C639.7 943.2 654.8 952.1 670.0 959.5 C692.9 970.7 715.9 986.3 738.8 996.1 C763.1 1006.5 787.4 1019.4 811.7 1019.4 C839.4 1019.4 867.2 1004.5 894.9 996.1 C921.5 988.0 948.1 974.4 974.7 970.1 C986.3 968.2 997.8 967.0 1009.4 967.0 C1019.6 967.0 1029.8 967.0 1040.0 967.0 C1060.5 967.0 1081.0 957.1 1101.5 951.7 C1140.9 941.3 1180.3 916.7 1219.7 916.7 C1240.8 916.7 1261.8 926.3 1282.9 937.1 C1313.7 952.9 1344.4 990.1 1375.2 1010.0 C1387.1 1017.7 1398.9 1031.0 1410.8 1031.0 C1423.7 1031.0 1436.7 1031.0 1449.6 1031.0" fill="none" stroke="#b81d35" stroke-width="2"/>
<path d="M374.4 1000.8 C399.9 1000.4 425.5 1000.8 451.0 999.5 C470.3 998.5 489.5 996.8 508.8 994.2 C531.9 991.1 555.1 987.1 578.2 981.4 C597.5 976.6 616.7 972.3 636.0 964.0 C647.3 959.1 658.7 952.1 670.0 946.7 C694.1 935.2 718.2 925.4 742.3 917.4 C764.3 910.1 786.2 903.3 808.2 899.7 C826.7 896.7 845.2 895.5 863.7 895.5 C900.7 895.5 937.7 899.0 974.7 899.0 C996.5 899.0 1018.2 896.2 1040.0 892.8 C1072.4 887.8 1104.7 875.7 1137.1 869.1 C1169.5 862.5 1201.9 853.0 1234.3 853.0 C1261.3 853.0 1288.3 861.0 1315.3 869.1 C1342.3 877.2 1369.2 890.8 1396.2 901.5 C1414.0 908.6 1431.8 915.6 1449.6 922.6" fill="none" stroke="#4316ef" stroke-width="2"/>
</svg><div class="card" style="left:310px;top:1160px;width:412px;height:284px"></div><div class="t" style="top:1185.55px;font-size:17px;line-height:17px;font-weight:700;color:#1e2a33;letter-spacing:0.434px;left:330.20px;">Income</div><div class="t" style="top:1240.15px;font-size:17px;line-height:17px;font-weight:400;color:#2b333b;letter-spacing:0.404px;left:330.20px;">Received Income</div><div class="t" style="top:1242.00px;font-size:16px;line-height:16px;font-weight:700;color:#1e2a33;letter-spacing:0.626px;right:844.17px;">$37,406</div><div class="t" style="top:1241.50px;font-size:16px;line-height:16px;font-weight:400;color:#9a9ca0;letter-spacing:-0.122px;right:797.72px;">(60%)</div><div class="abs" style="left:330.2px;top:1271.6px;width:372.2px;height:4.4px;border-radius:3px;background:#f0eefa"></div><div class="abs" style="left:330.2px;top:1271.6px;width:216px;height:4.4px;border-radius:3px;background:linear-gradient(to right,#3a10f0,#22118c)"></div><div class="t" style="top:1312.15px;font-size:17px;line-height:17px;font-weight:400;color:#2b333b;letter-spacing:0.460px;left:330.20px;">Receivable income</div><div class="t" style="top:1314.00px;font-size:16px;line-height:16px;font-weight:700;color:#1e2a33;letter-spacing:-0.887px;right:845.69px;">$1,519</div><div class="t" style="top:1313.50px;font-size:16px;line-height:16px;font-weight:400;color:#9a9ca0;letter-spacing:-0.122px;right:797.72px;">(23%)</div><div class="abs" style="left:330.2px;top:1343.6px;width:372.2px;height:4.4px;border-radius:3px;background:#fdf0f0"></div><div class="abs" style="left:330.2px;top:1343.6px;width:216px;height:4.4px;border-radius:3px;background:linear-gradient(to right,#ff0a0a,#d4101c)"></div><div class="t" style="top:1384.15px;font-size:17px;line-height:17px;font-weight:400;color:#2b333b;letter-spacing:0.601px;left:330.20px;">Total Income</div><div class="t" style="top:1386.00px;font-size:16px;line-height:16px;font-weight:700;color:#1e2a33;letter-spacing:-0.974px;right:842.07px;">$17,214</div><div class="t" style="top:1385.50px;font-size:16px;line-height:16px;font-weight:400;color:#9a9ca0;letter-spacing:-1.047px;right:798.65px;">(12%)</div><div class="abs" style="left:330.2px;top:1415.6px;width:372.2px;height:4.4px;border-radius:3px;background:#f2f8f1"></div><div class="abs" style="left:330.2px;top:1415.6px;width:216px;height:4.4px;border-radius:3px;background:#239c1c"></div><div class="card" style="left:753px;top:1160px;width:412px;height:284px"></div><div class="t" style="top:1185.55px;font-size:17px;line-height:17px;font-weight:700;color:#1e2a33;letter-spacing:-0.484px;left:773.20px;">Expenses</div><div class="t" style="top:1240.15px;font-size:17px;line-height:17px;font-weight:400;color:#2b333b;letter-spacing:-0.159px;left:773.20px;">Paid Expenses</div><div class="t" style="top:1242.00px;font-size:16px;line-height:16px;font-weight:700;color:#1e2a33;letter-spacing:0.626px;right:401.17px;">$37,406</div><div class="t" style="top:1241.50px;font-size:16px;line-height:16px;font-weight:400;color:#9a9ca0;letter-spacing:-0.122px;right:354.72px;">(60%)</div><div class="abs" style="left:773.2px;top:1271.6px;width:372.2px;height:4.4px;border-radius:3px;background:#f0eefa"></div><div class="abs" style="left:773.2px;top:1271.6px;width:216px;height:4.4px;border-radius:3px;background:linear-gradient(to right,#3a10f0,#22118c)"></div><div class="t" style="top:1312.15px;font-size:17px;line-height:17px;font-weight:400;color:#2b333b;letter-spacing:0.304px;left:773.20px;">Payable expenses</div><div class="t" style="top:1314.00px;font-size:16px;line-height:16px;font-weight:700;color:#1e2a33;letter-spacing:-0.887px;right:402.69px;">$1,519</div><div class="t" style="top:1313.50px;font-size:16px;line-height:16px;font-weight:400;color:#9a9ca0;letter-spacing:-0.122px;right:354.72px;">(23%)</div><div class="abs" style="left:773.2px;top:1343.6px;width:372.2px;height:4.4px;border-radius:3px;background:#fdf0f0"></div><div class="abs" style="left:773.2px;top:1343.6px;width:216px;height:4.4px;border-radius:3px;background:linear-gradient(to right,#ff0a0a,#d4101c)"></div><div class="t" style="top:1384.15px;font-size:17px;line-height:17px;font-weight:400;color:#2b333b;letter-spacing:0.424px;left:777.20px;">Total expense</div><div class="t" style="top:1386.00px;font-size:16px;line-height:16px;font-weight:700;color:#1e2a33;letter-spacing:-0.974px;right:399.07px;">$17,214</div><div class="t" style="top:1385.50px;font-size:16px;line-height:16px;font-weight:400;color:#9a9ca0;letter-spacing:-1.047px;right:355.65px;">(12%)</div><div class="abs" style="left:773.2px;top:1415.6px;width:372.2px;height:4.4px;border-radius:3px;background:#f2f8f1"></div><div class="abs" style="left:773.2px;top:1415.6px;width:216px;height:4.4px;border-radius:3px;background:#239c1c"></div><div class="card" style="left:1195px;top:1160px;width:275px;height:284px"></div><div class="t" style="top:1186.15px;font-size:17px;line-height:17px;font-weight:700;color:#1e2a33;letter-spacing:-0.029px;left:1215.30px;">Revenue</div><svg style="left:1180px;top:1150px" width="320" height="300" viewBox="1180 1150 320 300">
<defs><linearGradient id="dg" x1="0" y1="0" x2="1" y2="0"><stop offset="0" stop-color="#3a10f0"/><stop offset="1" stop-color="#22118c"/></linearGradient>
<linearGradient id="rg" x1="0" y1="0" x2="1" y2="0"><stop offset="0" stop-color="#ff0a0a"/><stop offset="1" stop-color="#d80c14"/></linearGradient></defs>
<circle cx="1332.7" cy="1299" r="67.6" fill="none" stroke="#ededf1" stroke-width="7.4"/>
<circle cx="1332.7" cy="1299" r="55.4" fill="none" stroke="#ededf1" stroke-width="7.8"/>
<path d="M1332.70 1231.40 A67.6 67.6 0 1 1 1265.14 1301.36" fill="none" stroke="url(#dg)" stroke-width="7.4" stroke-linecap="round"/>
<path d="M1332.70 1243.60 A55.4 55.4 0 0 1 1332.70 1354.40" fill="none" stroke="url(#rg)" stroke-width="7.8" stroke-linecap="round"/>
</svg><div class="t" style="top:1272.58px;font-size:12.5px;line-height:12.5px;font-weight:400;color:#9a9ca0;letter-spacing:-0.018px;left:1333.40px;transform:translateX(-50%);">Net Flow</div><div class="t" style="top:1297.05px;font-size:25px;line-height:25px;font-weight:700;color:#1e2a33;letter-spacing:0.166px;left:1333.40px;transform:translateX(-50%);">23,994</div><div class="abs" style="left:1215px;top:1390.5px;width:235px;height:1px;background:#e8e8ec"></div><div class="abs" style="left:1249.3px;top:1406.8px;width:12px;height:12px;border-radius:50%;background:linear-gradient(to right,#3a10f0,#22118c)"></div><div class="t" style="top:1406.45px;font-size:13px;line-height:13px;font-weight:400;color:#2b333b;letter-spacing:0.512px;left:1269.30px;">Income</div><div class="abs" style="left:1339.3px;top:1406.8px;width:12px;height:12px;border-radius:50%;background:#ef0a0a"></div><div class="t" style="top:1406.45px;font-size:13px;line-height:13px;font-weight:400;color:#2b333b;letter-spacing:-0.356px;left:1359.40px;">Expenses</div><div class="card" style="left:310px;top:1476px;width:565px;height:418px"></div><div class="t" style="top:1505.75px;font-size:17px;line-height:17px;font-weight:700;color:#1e2a33;letter-spacing:0.266px;left:330.20px;">Transactions</div><div class="abs" style="left:745px;top:1496.5px;width:110px;height:35px;border:1px solid #c6c6ca;border-radius:9px"></div><div class="t" style="top:1506.14px;font-size:16.3px;line-height:16.3px;font-weight:700;color:#1e2a33;letter-spacing:0.414px;left:763.00px;">Inflow</div><svg style="left:827.5px;top:1510.5px" width="14" height="7.5" viewBox="0 0 14 7.5" fill="none" stroke="#1e2a33" stroke-width="1.8" stroke-linecap="round" stroke-linejoin="round"><path d="M1 1 L7.0 6.5 L13 1"/></svg><div class="t" style="top:1555.15px;font-size:13px;line-height:13px;font-weight:400;color:#8a8d91;right:1094.30px;">Business</div><div class="t" style="top:1575.15px;font-size:13px;line-height:13px;font-weight:400;color:#8a8d91;right:1094.30px;">Income</div><div class="abs" style="left:416px;top:1568.0px;width:439px;height:1px;top:1571.5px;background:repeating-linear-gradient(to right,#e9e9ec 0,#e9e9ec 5px,transparent 5px,transparent 9px)"></div><div class="abs" style="left:415.9px;top:1568.0px;width:125.2px;height:8px;border-radius:0 4px 4px 0;background:linear-gradient(to right,#3a10f5,#22108a)"></div><div class="t" style="top:1605.75px;font-size:13px;line-height:13px;font-weight:400;color:#8a8d91;right:1094.30px;">Employment</div><div class="t" style="top:1625.75px;font-size:13px;line-height:13px;font-weight:400;color:#8a8d91;right:1094.30px;">Income</div><div class="abs" style="left:416px;top:1618.6px;width:439px;height:1px;top:1622.1px;background:repeating-linear-gradient(to right,#e9e9ec 0,#e9e9ec 5px,transparent 5px,transparent 9px)"></div><div class="abs" style="left:415.9px;top:1618.6px;width:256.1px;height:8px;border-radius:0 4px 4px 0;background:linear-gradient(to right,#ff0606,#d8101c)"></div><div class="t" style="top:1656.35px;font-size:13px;line-height:13px;font-weight:400;color:#8a8d91;right:1094.30px;">Rental</div><div class="t" style="top:1676.35px;font-size:13px;line-height:13px;font-weight:400;color:#8a8d91;right:1094.30px;">Income</div><div class="abs" style="left:416px;top:1669.2px;width:439px;height:1px;top:1672.7px;background:repeating-linear-gradient(to right,#e9e9ec 0,#e9e9ec 5px,transparent 5px,transparent 9px)"></div><div class="abs" style="left:415.9px;top:1669.2px;width:388.1px;height:8px;border-radius:0 4px 4px 0;background:#08a857"></div><div class="t" style="top:1706.95px;font-size:13px;line-height:13px;font-weight:400;color:#8a8d91;right:1094.30px;">Business</div><div class="t" style="top:1726.95px;font-size:13px;line-height:13px;font-weight:400;color:#8a8d91;right:1094.30px;">Grant</div><div class="abs" style="left:416px;top:1719.8px;width:439px;height:1px;top:1723.3px;background:repeating-linear-gradient(to right,#e9e9ec 0,#e9e9ec 5px,transparent 5px,transparent 9px)"></div><div class="abs" style="left:415.9px;top:1719.8px;width:75.5px;height:8px;border-radius:0 4px 4px 0;background:#f2b90a"></div><div class="t" style="top:1757.55px;font-size:13px;line-height:13px;font-weight:400;color:#8a8d91;right:1094.30px;">Government</div><div class="t" style="top:1777.55px;font-size:13px;line-height:13px;font-weight:400;color:#8a8d91;right:1094.30px;">Benefits</div><div class="abs" style="left:416px;top:1770.4px;width:439px;height:1px;top:1773.9px;background:repeating-linear-gradient(to right,#e9e9ec 0,#e9e9ec 5px,transparent 5px,transparent 9px)"></div><div class="abs" style="left:415.9px;top:1770.4px;width:336.7px;height:8px;border-radius:0 4px 4px 0;background:#b81d36"></div><div class="t" style="top:1808.15px;font-size:13px;line-height:13px;font-weight:400;color:#8a8d91;right:1094.30px;">Other</div><div class="t" style="top:1828.15px;font-size:13px;line-height:13px;font-weight:400;color:#8a8d91;right:1094.30px;">Income</div><div class="abs" style="left:416px;top:1821.0px;width:439px;height:1px;top:1824.5px;background:repeating-linear-gradient(to right,#e9e9ec 0,#e9e9ec 5px,transparent 5px,transparent 9px)"></div><div class="abs" style="left:415.9px;top:1821.0px;width:256.1px;height:8px;border-radius:0 4px 4px 0;background:#7150f2"></div><div class="t" style="top:1857.35px;font-size:12.3px;line-height:12.3px;font-weight:400;color:#8a8d91;left:419.90px;transform:translateX(-50%);">0</div><div class="t" style="top:1857.35px;font-size:12.3px;line-height:12.3px;font-weight:400;color:#8a8d91;left:456.50px;transform:translateX(-50%);">50</div><div class="t" style="top:1857.35px;font-size:12.3px;line-height:12.3px;font-weight:400;color:#8a8d91;left:498.00px;transform:translateX(-50%);">100</div><div class="t" style="top:1857.35px;font-size:12.3px;line-height:12.3px;font-weight:400;color:#8a8d91;left:543.70px;transform:translateX(-50%);">200</div><div class="t" style="top:1857.35px;font-size:12.3px;line-height:12.3px;font-weight:400;color:#8a8d91;left:591.00px;transform:translateX(-50%);">500</div><div class="t" style="top:1857.35px;font-size:12.3px;line-height:12.3px;font-weight:400;color:#8a8d91;left:632.00px;transform:translateX(-50%);">1k</div><div class="t" style="top:1857.35px;font-size:12.3px;line-height:12.3px;font-weight:400;color:#8a8d91;left:669.40px;transform:translateX(-50%);">2k</div><div class="t" style="top:1857.35px;font-size:12.3px;line-height:12.3px;font-weight:400;color:#8a8d91;left:708.00px;transform:translateX(-50%);">5k</div><div class="t" style="top:1857.35px;font-size:12.3px;line-height:12.3px;font-weight:400;color:#8a8d91;left:748.00px;transform:translateX(-50%);">10k</div><div class="t" style="top:1857.35px;font-size:12.3px;line-height:12.3px;font-weight:400;color:#8a8d91;left:792.40px;transform:translateX(-50%);">50k</div><div class="t" style="top:1857.35px;font-size:12.3px;line-height:12.3px;font-weight:400;color:#8a8d91;left:840.00px;transform:translateX(-50%);">100k</div><div class="card" style="left:905px;top:1474px;width:565px;height:418px"></div><div class="t" style="top:1503.85px;font-size:17px;line-height:17px;font-weight:700;color:#1e2a33;letter-spacing:0.101px;left:925.40px;">Recent Transactions</div><div class="abs" style="left:1340px;top:1494px;width:110px;height:35.6px;border:1px solid #c6c6ca;border-radius:9px"></div><div class="t" style="top:1504.24px;font-size:16.3px;line-height:16.3px;font-weight:700;color:#1e2a33;letter-spacing:0.414px;left:1358.10px;">Inflow</div><svg style="left:1422.5px;top:1508.3px" width="14" height="7.5" viewBox="0 0 14 7.5" fill="none" stroke="#1e2a33" stroke-width="1.8" stroke-linecap="round" stroke-linejoin="round"><path d="M1 1 L7.0 6.5 L13 1"/></svg><div class="abs" style="left:925.4px;top:1560px;width:36.4px;height:36.8px;border-radius:6px;background:#f3f9f1"></div><svg style="left:939.5px;top:1574.5px" width="8" height="8" viewBox="0 0 8 8" fill="none" stroke="#2a9a1e" stroke-width="1.2" stroke-linecap="square" stroke-linejoin="miter"><path d="M0.8 7.2 L7.2 0.8 M1.8 0.8 H7.2 V6.2"/></svg><div class="t" style="top:1559.97px;font-size:16.5px;line-height:16.5px;font-weight:700;color:#1e2a33;letter-spacing:0.156px;left:977.30px;">Business Income</div><div class="t" style="top:1585.67px;font-size:14.5px;line-height:14.5px;font-weight:400;color:#8e9196;letter-spacing:-0.324px;left:977.30px;">12 Jan, 2021  |  John Brown</div><div class="t" style="top:1556.03px;font-size:15.5px;line-height:15.5px;font-weight:700;color:#23a01a;letter-spacing:0.560px;right:50.64px;">+$ 25,34</div><div class="abs" style="left:1347px;top:1578.2px;width:102.8px;height:29.6px;border-radius:8px;background:#229b19"></div><div class="t" style="top:1585.47px;font-size:14.5px;line-height:14.5px;font-weight:700;color:#fff;letter-spacing:0.202px;left:1398.40px;transform:translateX(-50%);">Received</div><div class="abs" style="left:925px;top:1628px;width:525px;height:1px;background:#ebebee"></div><div class="abs" style="left:925.4px;top:1659px;width:36.4px;height:36.8px;border-radius:6px;background:#f0f0fb"></div><svg style="left:939.5px;top:1673.5px" width="8" height="8" viewBox="0 0 8 8" fill="none" stroke="#3311dd" stroke-width="1.2" stroke-linecap="square" stroke-linejoin="miter"><path d="M7.2 0.8 L0.8 7.2 M0.8 1.8 V7.2 H6.2"/></svg><div class="t" style="top:1658.97px;font-size:16.5px;line-height:16.5px;font-weight:700;color:#1e2a33;letter-spacing:0.442px;left:977.30px;">Advertising</div><div class="t" style="top:1684.67px;font-size:14.5px;line-height:14.5px;font-weight:400;color:#8e9196;letter-spacing:-0.324px;left:977.30px;">12 Jan, 2021  |  John Brown</div><div class="t" style="top:1655.03px;font-size:15.5px;line-height:15.5px;font-weight:700;color:#23a01a;letter-spacing:0.560px;right:50.64px;">+$ 25,34</div><div class="abs" style="left:1347px;top:1677.2px;width:102.8px;height:29.6px;border-radius:8px;background:#f0b90b"></div><div class="t" style="top:1684.47px;font-size:14.5px;line-height:14.5px;font-weight:700;color:#fff;letter-spacing:0.202px;left:1398.40px;transform:translateX(-50%);">Received</div><div class="abs" style="left:925px;top:1727px;width:525px;height:1px;background:#ebebee"></div><div class="abs" style="left:925.4px;top:1758px;width:36.4px;height:36.8px;border-radius:6px;background:#fdf1f1"></div><svg style="left:939.5px;top:1772.5px" width="8" height="8" viewBox="0 0 8 8" fill="none" stroke="#ef1414" stroke-width="1.2" stroke-linecap="square" stroke-linejoin="miter"><path d="M7.2 0.8 L0.8 7.2 M0.8 1.8 V7.2 H6.2"/></svg><div class="t" style="top:1757.97px;font-size:16.5px;line-height:16.5px;font-weight:700;color:#1e2a33;letter-spacing:0.076px;left:977.30px;">Rent</div><div class="t" style="top:1783.67px;font-size:14.5px;line-height:14.5px;font-weight:400;color:#8e9196;letter-spacing:-0.324px;left:977.30px;">12 Jan, 2021  |  John Brown</div><div class="t" style="top:1754.03px;font-size:15.5px;line-height:15.5px;font-weight:700;color:#23a01a;letter-spacing:0.560px;right:50.64px;">+$ 25,34</div><div class="abs" style="left:1347px;top:1776.2px;width:102.8px;height:29.6px;border-radius:8px;background:#e8060c"></div><div class="t" style="top:1783.47px;font-size:14.5px;line-height:14.5px;font-weight:700;color:#fff;letter-spacing:0.202px;left:1398.40px;transform:translateX(-50%);">Received</div><div class="abs" style="left:925px;top:1826px;width:525px;height:1px;background:#ebebee"></div><div class="t" style="top:1851.27px;font-size:14.5px;line-height:14.5px;font-weight:700;color:#2a10d0;letter-spacing:0.098px;left:1186.80px;transform:translateX(-50%);">View All</div><div class="card" style="left:310px;top:1922px;width:565px;height:449px"></div><div class="t" style="top:1947.85px;font-size:17px;line-height:17px;font-weight:700;color:#1e2a33;letter-spacing:0.123px;left:330.40px;">January 2022</div><svg style="left:802px;top:1947px" width="12" height="18" viewBox="0 0 12 18" fill="none" stroke="#1e2a33" stroke-width="1.6" stroke-linecap="round" stroke-linejoin="round"><path d="M9.5 1.5 L2.5 9 L9.5 16.5"/></svg><svg style="left:839px;top:1947px" width="12" height="18" viewBox="0 0 12 18" fill="none" stroke="#1e2a33" stroke-width="1.6" stroke-linecap="round" stroke-linejoin="round"><path d="M2.5 1.5 L9.5 9 L2.5 16.5"/></svg><div class="abs" style="left:328px;top:1985px;width:527px;height:1px;background:#ececef"></div><div class="t" style="top:2012.17px;font-size:10.5px;line-height:10.5px;font-weight:400;color:#8e9196;left:345.60px;transform:translateX(-50%);">MON</div><div class="t" style="top:2012.17px;font-size:10.5px;line-height:10.5px;font-weight:400;color:#8e9196;left:427.75px;transform:translateX(-50%);">TUE</div><div class="t" style="top:2012.17px;font-size:10.5px;line-height:10.5px;font-weight:400;color:#8e9196;left:509.90px;transform:translateX(-50%);">WED</div><div class="t" style="top:2012.17px;font-size:10.5px;line-height:10.5px;font-weight:400;color:#8e9196;left:592.05px;transform:translateX(-50%);">THU</div><div class="t" style="top:2012.17px;font-size:10.5px;line-height:10.5px;font-weight:400;color:#8e9196;left:674.20px;transform:translateX(-50%);">FRI</div><div class="t" style="top:2012.17px;font-size:10.5px;line-height:10.5px;font-weight:400;color:#8e9196;left:756.35px;transform:translateX(-50%);">SAT</div><div class="t" style="top:2012.17px;font-size:10.5px;line-height:10.5px;font-weight:400;color:#8e9196;left:838.50px;transform:translateX(-50%);">SUN</div><div class="abs" style="left:330px;top:2044px;width:24px;height:24px;border-radius:50%;background:linear-gradient(135deg,#3a10f5,#22108a)"></div><div class="t" style="top:2048.45px;font-size:15px;line-height:15px;font-weight:400;color:#fff;left:341.60px;transform:translateX(-50%);">1</div><div class="t" style="top:2048.45px;font-size:15px;line-height:15px;font-weight:400;color:#2b333b;left:425.08px;transform:translateX(-50%);">2</div><div class="t" style="top:2048.45px;font-size:15px;line-height:15px;font-weight:400;color:#2b333b;left:508.56px;transform:translateX(-50%);">3</div><div class="t" style="top:2048.45px;font-size:15px;line-height:15px;font-weight:400;color:#2b333b;left:592.04px;transform:translateX(-50%);">4</div><div class="t" style="top:2048.45px;font-size:15px;line-height:15px;font-weight:400;color:#2b333b;left:675.52px;transform:translateX(-50%);">5</div><div class="t" style="top:2048.45px;font-size:15px;line-height:15px;font-weight:400;color:#2b333b;left:759.00px;transform:translateX(-50%);">6</div><div class="t" style="top:2048.45px;font-size:15px;line-height:15px;font-weight:400;color:#2b333b;left:842.48px;transform:translateX(-50%);">7</div><div class="t" style="top:2092.50px;font-size:15px;line-height:15px;font-weight:400;color:#2b333b;left:341.60px;transform:translateX(-50%);">8</div><div class="t" style="top:2092.50px;font-size:15px;line-height:15px;font-weight:400;color:#2b333b;left:425.08px;transform:translateX(-50%);">9</div><div class="t" style="top:2092.50px;font-size:15px;line-height:15px;font-weight:400;color:#2b333b;left:508.56px;transform:translateX(-50%);">10</div><div class="t" style="top:2092.50px;font-size:15px;line-height:15px;font-weight:400;color:#2b333b;left:592.04px;transform:translateX(-50%);">11</div><div class="t" style="top:2092.50px;font-size:15px;line-height:15px;font-weight:400;color:#2b333b;left:675.52px;transform:translateX(-50%);">12</div><div class="t" style="top:2092.50px;font-size:15px;line-height:15px;font-weight:400;color:#2b333b;left:759.00px;transform:translateX(-50%);">13</div><div class="t" style="top:2092.50px;font-size:15px;line-height:15px;font-weight:400;color:#2b333b;left:842.48px;transform:translateX(-50%);">14</div><div class="t" style="top:2136.55px;font-size:15px;line-height:15px;font-weight:400;color:#2b333b;left:341.60px;transform:translateX(-50%);">15</div><div class="t" style="top:2136.55px;font-size:15px;line-height:15px;font-weight:400;color:#2b333b;left:425.08px;transform:translateX(-50%);">16</div><div class="t" style="top:2136.55px;font-size:15px;line-height:15px;font-weight:400;color:#2b333b;left:508.56px;transform:translateX(-50%);">17</div><div class="t" style="top:2136.55px;font-size:15px;line-height:15px;font-weight:400;color:#2b333b;left:592.04px;transform:translateX(-50%);">18</div><div class="t" style="top:2136.55px;font-size:15px;line-height:15px;font-weight:400;color:#2b333b;left:675.52px;transform:translateX(-50%);">19</div><div class="t" style="top:2136.55px;font-size:15px;line-height:15px;font-weight:400;color:#2b333b;left:759.00px;transform:translateX(-50%);">20</div><div class="t" style="top:2136.55px;font-size:15px;line-height:15px;font-weight:400;color:#2b333b;left:842.48px;transform:translateX(-50%);">21</div><div class="t" style="top:2180.60px;font-size:15px;line-height:15px;font-weight:400;color:#2b333b;left:341.60px;transform:translateX(-50%);">22</div><div class="t" style="top:2180.60px;font-size:15px;line-height:15px;font-weight:400;color:#2b333b;left:425.08px;transform:translateX(-50%);">23</div><div class="t" style="top:2180.60px;font-size:15px;line-height:15px;font-weight:400;color:#2b333b;left:508.56px;transform:translateX(-50%);">24</div><div class="t" style="top:2180.60px;font-size:15px;line-height:15px;font-weight:400;color:#2b333b;left:592.04px;transform:translateX(-50%);">25</div><div class="t" style="top:2180.60px;font-size:15px;line-height:15px;font-weight:400;color:#2b333b;left:675.52px;transform:translateX(-50%);">26</div><div class="t" style="top:2180.60px;font-size:15px;line-height:15px;font-weight:400;color:#2b333b;left:759.00px;transform:translateX(-50%);">27</div><div class="t" style="top:2180.60px;font-size:15px;line-height:15px;font-weight:400;color:#2b333b;left:842.48px;transform:translateX(-50%);">28</div><div class="t" style="top:2224.65px;font-size:15px;line-height:15px;font-weight:400;color:#2b333b;left:341.60px;transform:translateX(-50%);">29</div><div class="t" style="top:2224.65px;font-size:15px;line-height:15px;font-weight:400;color:#2b333b;left:425.08px;transform:translateX(-50%);">30</div><div class="t" style="top:2224.65px;font-size:15px;line-height:15px;font-weight:400;color:#2b333b;left:508.56px;transform:translateX(-50%);">31</div><div class="card" style="left:905px;top:1922px;width:565px;height:449px"></div><div class="t" style="top:1954.35px;font-size:17px;line-height:17px;font-weight:700;color:#1e2a33;letter-spacing:0.211px;left:925.30px;">Reminder</div><svg style="left:922px;top:2003.0px" width="22" height="22" viewBox="0 0 22 22" fill="none" stroke="#3311dd" stroke-width="2" stroke-linecap="round" stroke-linejoin="round"><circle cx="11" cy="11" r="10"/><path d="M6.8 11.3 L9.6 14 L15 8"/></svg><div class="t" style="top:2006.10px;font-size:14px;line-height:14px;font-weight:700;color:#1e2a33;letter-spacing:0.454px;left:955.20px;">17Jan, 2022  5:00PM</div><div class="t" style="top:2033.62px;font-size:12.8px;line-height:12.8px;font-weight:400;color:#8e9196;letter-spacing:-0.042px;left:955.20px;">John Doe  |  Torrnto  |  One Time</div><div class="t" style="top:2053.64px;font-size:12.3px;line-height:12.3px;font-weight:400;color:#8e9196;letter-spacing:0.478px;left:955.20px;">Lorem Ipsum is simply dummy text for printing UI</div><div class="abs" style="left:1334px;top:2007.0px;width:72px;height:20px;border-radius:10px;background:#229b19"></div><div class="t" style="top:2010.64px;font-size:12.3px;line-height:12.3px;font-weight:400;color:#fff;letter-spacing:0.880px;left:1370.00px;transform:translateX(-50%);">Complete</div><div class="abs" style="left:1436.1px;top:2007.9px;width:3.8px;height:3.8px;border-radius:50%;background:#1e2a33"></div><div class="abs" style="left:1436.1px;top:2015.1px;width:3.8px;height:3.8px;border-radius:50%;background:#1e2a33"></div><div class="abs" style="left:1436.1px;top:2022.2px;width:3.8px;height:3.8px;border-radius:50%;background:#1e2a33"></div><div class="abs" style="left:925px;top:2090.0px;width:525px;height:1px;background:#ebebee"></div><svg style="left:922px;top:2112.2px" width="22" height="22" viewBox="0 0 22 22" fill="none" stroke="#3311dd" stroke-width="2" stroke-linecap="round" stroke-linejoin="round"><circle cx="11" cy="11" r="10"/><path d="M6.8 11.3 L9.6 14 L15 8"/></svg><div class="t" style="top:2115.30px;font-size:14px;line-height:14px;font-weight:700;color:#1e2a33;letter-spacing:0.454px;left:955.20px;">17Jan, 2022  5:00PM</div><div class="t" style="top:2142.82px;font-size:12.8px;line-height:12.8px;font-weight:400;color:#8e9196;letter-spacing:-0.042px;left:955.20px;">John Doe  |  Torrnto  |  One Time</div><div class="t" style="top:2162.84px;font-size:12.3px;line-height:12.3px;font-weight:400;color:#8e9196;letter-spacing:0.478px;left:955.20px;">Lorem Ipsum is simply dummy text for printing UI</div><div class="abs" style="left:1344.8px;top:2116.2px;width:61.2px;height:20px;border-radius:10px;background:#fdc93a"></div><div class="t" style="top:2119.84px;font-size:12.3px;line-height:12.3px;font-weight:400;color:#fff;letter-spacing:0.560px;left:1375.40px;transform:translateX(-50%);">Pending</div><div class="abs" style="left:1436.1px;top:2117.1px;width:3.8px;height:3.8px;border-radius:50%;background:#1e2a33"></div><div class="abs" style="left:1436.1px;top:2124.2px;width:3.8px;height:3.8px;border-radius:50%;background:#1e2a33"></div><div class="abs" style="left:1436.1px;top:2131.4px;width:3.8px;height:3.8px;border-radius:50%;background:#1e2a33"></div><div class="abs" style="left:925px;top:2199.2px;width:525px;height:1px;background:#ebebee"></div><svg style="left:922px;top:2221.4px" width="22" height="22" viewBox="0 0 22 22" fill="none" stroke="#3311dd" stroke-width="2" stroke-linecap="round" stroke-linejoin="round"><circle cx="11" cy="11" r="10"/><path d="M6.8 11.3 L9.6 14 L15 8"/></svg><div class="t" style="top:2224.50px;font-size:14px;line-height:14px;font-weight:700;color:#1e2a33;letter-spacing:0.454px;left:955.20px;">17Jan, 2022  5:00PM</div><div class="t" style="top:2252.02px;font-size:12.8px;line-height:12.8px;font-weight:400;color:#8e9196;letter-spacing:-0.042px;left:955.20px;">John Doe  |  Torrnto  |  One Time</div><div class="t" style="top:2272.05px;font-size:12.3px;line-height:12.3px;font-weight:400;color:#8e9196;letter-spacing:0.478px;left:955.20px;">Lorem Ipsum is simply dummy text for printing UI</div><div class="abs" style="left:1334px;top:2225.4px;width:72px;height:20px;border-radius:10px;background:#229b19"></div><div class="t" style="top:2229.05px;font-size:12.3px;line-height:12.3px;font-weight:400;color:#fff;letter-spacing:0.880px;left:1370.00px;transform:translateX(-50%);">Complete</div><div class="abs" style="left:1436.1px;top:2226.3px;width:3.8px;height:3.8px;border-radius:50%;background:#1e2a33"></div><div class="abs" style="left:1436.1px;top:2233.5px;width:3.8px;height:3.8px;border-radius:50%;background:#1e2a33"></div><div class="abs" style="left:1436.1px;top:2240.6px;width:3.8px;height:3.8px;border-radius:50%;background:#1e2a33"></div><div class="abs" style="left:925px;top:2308.4px;width:525px;height:1px;background:#ebebee"></div><div class="t" style="top:2332.08px;font-size:14.5px;line-height:14.5px;font-weight:700;color:#2a10d0;letter-spacing:0.170px;left:1185.00px;transform:translateX(-50%);">View All</div><div class="card" style="left:310px;top:2401px;width:565px;height:478px"></div><div class="t" style="top:2431.20px;font-size:16px;line-height:16px;font-weight:700;color:#1e2a33;letter-spacing:0.266px;left:330.40px;">Trips</div><div class="abs" style="left:330.4px;top:2473.2px;width:47.4px;height:49.3px;border-radius:6px;background:#dcdaf3"></div><svg style="left:344px;top:2486.5px" width="20" height="23" viewBox="0 0 20 23" fill="none" stroke="#2b1fb0" stroke-width="1.3"><path d="M10 1.2 C14.6 1.2 18.3 4.8 18.3 9.4 C18.3 14.3 14 18.5 11.3 21 C10.5 21.7 9.5 21.7 8.7 21 C6 18.5 1.7 14.3 1.7 9.4 C1.7 4.8 5.4 1.2 10 1.2Z"/><circle cx="10" cy="9.3" r="3.3"/></svg><div class="t" style="top:2479.15px;font-size:17px;line-height:17px;font-weight:700;color:#1e2a33;letter-spacing:0.119px;left:398.60px;">My Ultimate Trip</div><div class="t" style="top:2504.45px;font-size:15px;line-height:15px;font-weight:400;color:#8e9196;letter-spacing:-0.206px;left:398.60px;">Toronto to Ottawa | 12 Jan, 2021</div><div class="abs" style="left:797.9px;top:2478.3px;width:57.1px;height:20.2px;border-radius:10.1px;background:linear-gradient(to right,#3610f2,#22108f)"></div><div class="t" style="top:2482.40px;font-size:12px;line-height:12px;font-weight:400;color:#fff;letter-spacing:0.349px;left:826.40px;transform:translateX(-50%);">+ Notes</div><div class="t" style="top:2508.82px;font-size:11.5px;line-height:11.5px;font-weight:400;color:#ef1414;right:651.00px;">1.2 KM</div><div class="abs" style="left:330px;top:2543.5px;width:525px;height:1px;background:#ebebee"></div><div class="abs" style="left:330.4px;top:2564.2px;width:47.4px;height:49.3px;border-radius:6px;background:#dcdaf3"></div><svg style="left:344px;top:2577.5px" width="20" height="23" viewBox="0 0 20 23" fill="none" stroke="#2b1fb0" stroke-width="1.3"><path d="M10 1.2 C14.6 1.2 18.3 4.8 18.3 9.4 C18.3 14.3 14 18.5 11.3 21 C10.5 21.7 9.5 21.7 8.7 21 C6 18.5 1.7 14.3 1.7 9.4 C1.7 4.8 5.4 1.2 10 1.2Z"/><circle cx="10" cy="9.3" r="3.3"/></svg><div class="t" style="top:2570.15px;font-size:17px;line-height:17px;font-weight:700;color:#1e2a33;letter-spacing:0.119px;left:398.60px;">My Ultimate Trip</div><div class="t" style="top:2595.45px;font-size:15px;line-height:15px;font-weight:400;color:#8e9196;letter-spacing:-0.206px;left:398.60px;">Toronto to Ottawa | 12 Jan, 2021</div><div class="abs" style="left:797.9px;top:2569.3px;width:57.1px;height:20.2px;border-radius:10.1px;background:linear-gradient(to right,#3610f2,#22108f)"></div><div class="t" style="top:2573.40px;font-size:12px;line-height:12px;font-weight:400;color:#fff;letter-spacing:0.349px;left:826.40px;transform:translateX(-50%);">+ Notes</div><div class="t" style="top:2599.82px;font-size:11.5px;line-height:11.5px;font-weight:400;color:#ef1414;right:651.00px;">1.2 KM</div><div class="abs" style="left:330px;top:2634.5px;width:525px;height:1px;background:#ebebee"></div><div class="abs" style="left:330.4px;top:2655.2px;width:47.4px;height:49.3px;border-radius:6px;background:#dcdaf3"></div><svg style="left:344px;top:2668.5px" width="20" height="23" viewBox="0 0 20 23" fill="none" stroke="#2b1fb0" stroke-width="1.3"><path d="M10 1.2 C14.6 1.2 18.3 4.8 18.3 9.4 C18.3 14.3 14 18.5 11.3 21 C10.5 21.7 9.5 21.7 8.7 21 C6 18.5 1.7 14.3 1.7 9.4 C1.7 4.8 5.4 1.2 10 1.2Z"/><circle cx="10" cy="9.3" r="3.3"/></svg><div class="t" style="top:2661.15px;font-size:17px;line-height:17px;font-weight:700;color:#1e2a33;letter-spacing:0.119px;left:398.60px;">My Ultimate Trip</div><div class="t" style="top:2686.45px;font-size:15px;line-height:15px;font-weight:400;color:#8e9196;letter-spacing:-0.206px;left:398.60px;">Toronto to Ottawa | 12 Jan, 2021</div><div class="abs" style="left:797.9px;top:2660.3px;width:57.1px;height:20.2px;border-radius:10.1px;background:linear-gradient(to right,#3610f2,#22108f)"></div><div class="t" style="top:2664.40px;font-size:12px;line-height:12px;font-weight:400;color:#fff;letter-spacing:0.349px;left:826.40px;transform:translateX(-50%);">+ Notes</div><div class="t" style="top:2690.82px;font-size:11.5px;line-height:11.5px;font-weight:400;color:#ef1414;right:651.00px;">1.2 KM</div><div class="abs" style="left:330px;top:2725.5px;width:525px;height:1px;background:#ebebee"></div><div class="abs" style="left:330.4px;top:2746.2px;width:47.4px;height:49.3px;border-radius:6px;background:#dcdaf3"></div><svg style="left:344px;top:2759.5px" width="20" height="23" viewBox="0 0 20 23" fill="none" stroke="#2b1fb0" stroke-width="1.3"><path d="M10 1.2 C14.6 1.2 18.3 4.8 18.3 9.4 C18.3 14.3 14 18.5 11.3 21 C10.5 21.7 9.5 21.7 8.7 21 C6 18.5 1.7 14.3 1.7 9.4 C1.7 4.8 5.4 1.2 10 1.2Z"/><circle cx="10" cy="9.3" r="3.3"/></svg><div class="t" style="top:2752.15px;font-size:17px;line-height:17px;font-weight:700;color:#1e2a33;letter-spacing:0.119px;left:398.60px;">My Ultimate Trip</div><div class="t" style="top:2777.45px;font-size:15px;line-height:15px;font-weight:400;color:#8e9196;letter-spacing:-0.206px;left:398.60px;">Toronto to Ottawa | 12 Jan, 2021</div><div class="abs" style="left:797.9px;top:2751.3px;width:57.1px;height:20.2px;border-radius:10.1px;background:linear-gradient(to right,#3610f2,#22108f)"></div><div class="t" style="top:2755.40px;font-size:12px;line-height:12px;font-weight:400;color:#fff;letter-spacing:0.349px;left:826.40px;transform:translateX(-50%);">+ Notes</div><div class="t" style="top:2781.82px;font-size:11.5px;line-height:11.5px;font-weight:400;color:#ef1414;right:651.00px;">1.2 KM</div><div class="abs" style="left:330px;top:2816.5px;width:525px;height:1px;background:#ebebee"></div><div class="t" style="top:2840.08px;font-size:14.5px;line-height:14.5px;font-weight:700;color:#2a10d0;letter-spacing:0.212px;left:592.00px;transform:translateX(-50%);">View All</div><div class="card" style="left:905px;top:2401px;width:565px;height:478px"></div><div class="t" style="top:2432.30px;font-size:16px;line-height:16px;font-weight:700;color:#1e2a33;letter-spacing:0.596px;left:925.30px;">Invoices</div><div class="abs" style="left:925.3px;top:2473px;width:47.5px;height:49.5px;border-radius:6px;background:#dcdaf3"></div><svg style="left:939px;top:2487px" width="20" height="22" viewBox="0 0 20 22" fill="none" stroke="#3311dd" stroke-width="1.6" stroke-linejoin="round" stroke-linecap="round"><path d="M12 1.5 H5 C3.3 1.5 2.5 2.5 2.5 4 V18 C2.5 19.5 3.3 20.5 5 20.5 H15 C16.7 20.5 17.5 19.5 17.5 18 V7 Z M12 1.5 V7 H17.5"/><path d="M6 10 H10 M6 13.5 H14 M6 16.8 H14"/></svg><div class="t" style="top:2479.85px;font-size:17px;line-height:17px;font-weight:700;color:#1e2a33;letter-spacing:-0.012px;left:993.50px;">Darlene Robertson</div><div class="t" style="top:2504.59px;font-size:14.6px;line-height:14.6px;font-weight:400;color:#8e9196;letter-spacing:-0.463px;left:993.50px;">#12FS22 | 12 Jan, 2021</div><div class="t" style="top:2478.97px;font-size:12.5px;line-height:12.5px;font-weight:400;color:#ef2424;letter-spacing:-0.136px;right:50.44px;">$ 25,34</div><div class="abs" style="left:1394.2px;top:2501.4px;width:55.5px;height:19.7px;border-radius:10px;background:linear-gradient(to right,#3610f2,#22108f)"></div><div class="t" style="top:2504.88px;font-size:12.5px;line-height:12.5px;font-weight:400;color:#fff;letter-spacing:-0.010px;left:1422.00px;transform:translateX(-50%);">Paid</div><div class="abs" style="left:925px;top:2543.7px;width:525px;height:1px;background:#ebebee"></div><div class="abs" style="left:925.3px;top:2564px;width:47.5px;height:49.5px;border-radius:6px;background:#dcdaf3"></div><svg style="left:939px;top:2578px" width="20" height="22" viewBox="0 0 20 22" fill="none" stroke="#3311dd" stroke-width="1.6" stroke-linejoin="round" stroke-linecap="round"><path d="M12 1.5 H5 C3.3 1.5 2.5 2.5 2.5 4 V18 C2.5 19.5 3.3 20.5 5 20.5 H15 C16.7 20.5 17.5 19.5 17.5 18 V7 Z M12 1.5 V7 H17.5"/><path d="M6 10 H10 M6 13.5 H14 M6 16.8 H14"/></svg><div class="t" style="top:2570.85px;font-size:17px;line-height:17px;font-weight:700;color:#1e2a33;letter-spacing:-0.012px;left:993.50px;">Darlene Robertson</div><div class="t" style="top:2595.59px;font-size:14.6px;line-height:14.6px;font-weight:400;color:#8e9196;letter-spacing:-0.463px;left:993.50px;">#12FS22 | 12 Jan, 2021</div><div class="t" style="top:2569.97px;font-size:12.5px;line-height:12.5px;font-weight:400;color:#ef2424;letter-spacing:-0.136px;right:50.44px;">$ 25,34</div><div class="abs" style="left:1394.2px;top:2592.4px;width:55.5px;height:19.7px;border-radius:10px;background:linear-gradient(to right,#3610f2,#22108f)"></div><div class="t" style="top:2595.88px;font-size:12.5px;line-height:12.5px;font-weight:400;color:#fff;letter-spacing:-0.010px;left:1422.00px;transform:translateX(-50%);">Paid</div><div class="abs" style="left:925px;top:2634.7px;width:525px;height:1px;background:#ebebee"></div><div class="abs" style="left:925.3px;top:2655px;width:47.5px;height:49.5px;border-radius:6px;background:#dcdaf3"></div><svg style="left:939px;top:2669px" width="20" height="22" viewBox="0 0 20 22" fill="none" stroke="#3311dd" stroke-width="1.6" stroke-linejoin="round" stroke-linecap="round"><path d="M12 1.5 H5 C3.3 1.5 2.5 2.5 2.5 4 V18 C2.5 19.5 3.3 20.5 5 20.5 H15 C16.7 20.5 17.5 19.5 17.5 18 V7 Z M12 1.5 V7 H17.5"/><path d="M6 10 H10 M6 13.5 H14 M6 16.8 H14"/></svg><div class="t" style="top:2661.85px;font-size:17px;line-height:17px;font-weight:700;color:#1e2a33;letter-spacing:-0.012px;left:993.50px;">Darlene Robertson</div><div class="t" style="top:2686.59px;font-size:14.6px;line-height:14.6px;font-weight:400;color:#8e9196;letter-spacing:-0.463px;left:993.50px;">#12FS22 | 12 Jan, 2021</div><div class="t" style="top:2660.97px;font-size:12.5px;line-height:12.5px;font-weight:400;color:#ef2424;letter-spacing:-0.136px;right:50.44px;">$ 25,34</div><div class="abs" style="left:1394.2px;top:2683.4px;width:55.5px;height:19.7px;border-radius:10px;background:linear-gradient(to right,#3610f2,#22108f)"></div><div class="t" style="top:2686.88px;font-size:12.5px;line-height:12.5px;font-weight:400;color:#fff;letter-spacing:-0.010px;left:1422.00px;transform:translateX(-50%);">Paid</div><div class="abs" style="left:925px;top:2725.7px;width:525px;height:1px;background:#ebebee"></div><div class="abs" style="left:925.3px;top:2746px;width:47.5px;height:49.5px;border-radius:6px;background:#dcdaf3"></div><svg style="left:939px;top:2760px" width="20" height="22" viewBox="0 0 20 22" fill="none" stroke="#3311dd" stroke-width="1.6" stroke-linejoin="round" stroke-linecap="round"><path d="M12 1.5 H5 C3.3 1.5 2.5 2.5 2.5 4 V18 C2.5 19.5 3.3 20.5 5 20.5 H15 C16.7 20.5 17.5 19.5 17.5 18 V7 Z M12 1.5 V7 H17.5"/><path d="M6 10 H10 M6 13.5 H14 M6 16.8 H14"/></svg><div class="t" style="top:2752.85px;font-size:17px;line-height:17px;font-weight:700;color:#1e2a33;letter-spacing:-0.012px;left:993.50px;">Darlene Robertson</div><div class="t" style="top:2777.59px;font-size:14.6px;line-height:14.6px;font-weight:400;color:#8e9196;letter-spacing:-0.463px;left:993.50px;">#12FS22 | 12 Jan, 2021</div><div class="t" style="top:2751.97px;font-size:12.5px;line-height:12.5px;font-weight:400;color:#ef2424;letter-spacing:-0.136px;right:50.44px;">$ 25,34</div><div class="abs" style="left:1394.2px;top:2774.4px;width:55.5px;height:19.7px;border-radius:10px;background:linear-gradient(to right,#3610f2,#22108f)"></div><div class="t" style="top:2777.88px;font-size:12.5px;line-height:12.5px;font-weight:400;color:#fff;letter-spacing:-0.010px;left:1422.00px;transform:translateX(-50%);">Paid</div><div class="abs" style="left:925px;top:2816.7px;width:525px;height:1px;background:#ebebee"></div><div class="t" style="top:2840.58px;font-size:14.5px;line-height:14.5px;font-weight:700;color:#2a10d0;letter-spacing:0.098px;left:1186.80px;transform:translateX(-50%);">View All</div>
</div></body></html>
